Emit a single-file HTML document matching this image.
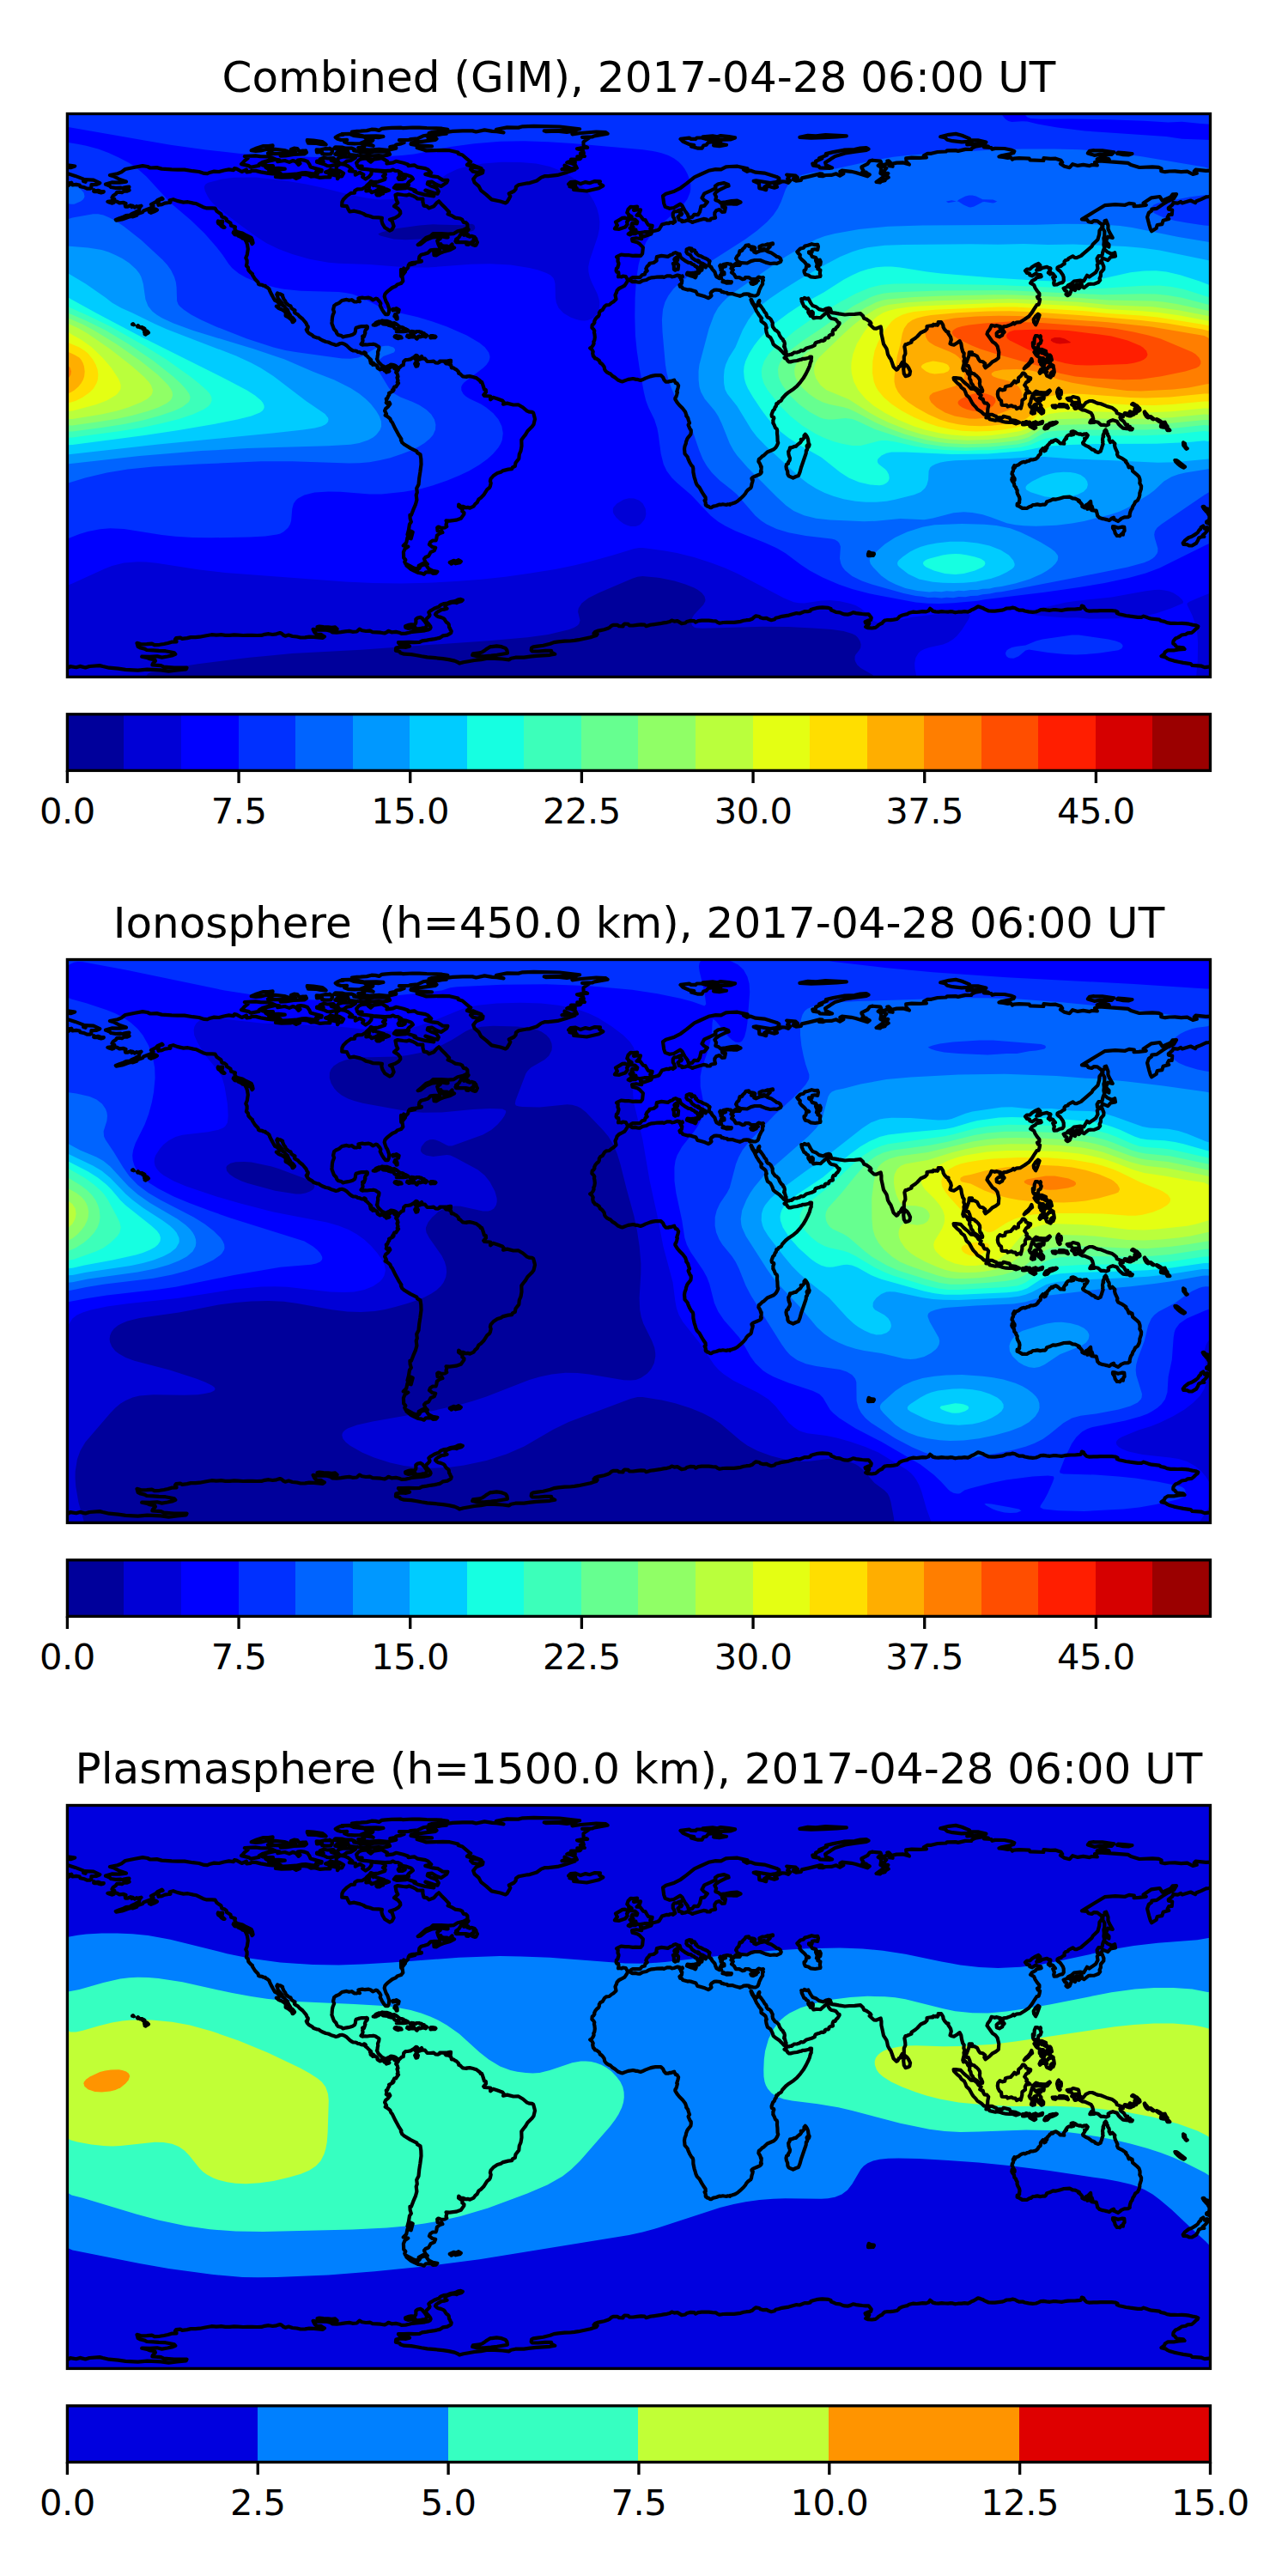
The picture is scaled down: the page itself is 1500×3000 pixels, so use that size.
<!DOCTYPE html>
<html lang="en"><head><meta charset="utf-8"><title>GIM maps</title>
<style>
html,body{margin:0;padding:0;background:#fff}
svg{display:block}
text{font-family:"DejaVu Sans","Liberation Sans",sans-serif;fill:#000;text-anchor:middle}
.tt{font-size:50px}
.tl{font-size:41.67px;letter-spacing:-0.5px}
.fr{fill:none;stroke:#000;stroke-width:3.33}
.tk{fill:none;stroke:#000;stroke-width:3.33}
.cs{fill:none;stroke:#000;stroke-width:4.2;stroke-linejoin:round;stroke-linecap:round}
</style></head><body>
<svg width="1500" height="3000" viewBox="0 0 1500 3000">
<rect width="1500" height="3000" fill="#fff"/>
<defs><path id="cst" d="M123,214.6 130.1,212.4 139.1,212.7 147,211.6 139.5,209 133.1,205.6 127.9,204.1 136.9,202.2 141.4,200.4 145.9,197 157.1,194.7 166.1,193.1 171.8,194 174.8,195.5 182.6,195.1 188.3,196.6 199.9,197.4 207,197.7 214.9,197.6 224.6,199.2 231.8,200 237.8,201.9 241.5,202.2 244.9,200.7 249.4,199.6 255,200 260.6,198.5 266.6,197.4 271.9,198.1 273,196.2 275.6,196.6 281.6,200 286.9,197.6 287.3,200.4 291.8,199.8 293.3,198.7 297.8,198.9 303.7,200.4 312.4,201.9 317.6,202.4 321.4,202.2 326.2,204.1 321,206 327.7,206.7 337.9,206.4 341.2,205.6 345,207.9 349.1,206 345.4,204.5 347.6,203.2 352.5,203 358.5,203.6 362.2,205.6 366.4,205.2 372.7,206.9 378.7,206.4 384.4,206.4 383.6,204.1 387,203.4 393,204.9 393,208.2 395.2,205.2 398.2,205.4 400.1,201.7 396,199.2 391.5,197.7 391.9,193.6 396.4,191 401.2,191.6 405,193.2 410.2,197.4 406.9,199.2 414,200 413.8,203.7 418.9,200.9 423.4,203.4 422.2,206 425.8,208.6 429.7,206 432.4,202.6 432.7,198.5 438,198.9 443.6,199.4 448.5,201.3 448.9,203.2 446,205.1 448.7,207.1 448.1,209 440.8,211.6 435.5,212.2 431.8,211.1 430.7,212.9 427.1,216.1 426,217.6 421.5,220.2 416.2,220.4 413.2,222.1 413,224.6 408.7,224.9 404.1,228.1 399.9,232.2 398.4,235.2 398.2,239.6 403.9,240.1 405.6,243.7 407.2,246.5 412.5,245.7 419.4,247.4 423.2,248.9 426,250.6 430.7,251.7 434.6,253.2 440.8,253.4 444.9,253.8 444.4,257 445.5,260.7 448.1,265 453.7,268.6 456.5,267.3 458.6,263.5 456.7,257.5 453.9,255.7 460.1,253.8 464.2,251.2 466.3,248.5 466.1,246.1 463.5,242.9 459,240.1 463.3,236.2 461.6,232.8 460.5,227 463.1,226.1 469.5,227 473.4,227.4 476.4,226.4 480,227.7 484.5,230 485.8,231.3 492.4,231.7 492.4,234.9 493.5,239.6 497,240.1 499.7,242.4 505.1,240.3 508.7,236.2 511.1,234.3 514.1,237.7 519,242.6 523.1,247 521.6,249.3 526.7,251.4 530,253.6 536,254.5 538.3,255.9 539.8,258.9 542.8,259.4 544.3,260.9 544.5,265 541.8,266.5 539.2,267.9 533,269.2 528.2,272.2 522,272.7 513.9,272 508.3,272 504.4,272.2 501.2,275 496.5,276.7 491,281.5 486.7,285.1 489.9,284.4 495.9,279.5 503.8,276.3 509.4,275.9 512.8,277.8 509.2,280.4 510.4,284.4 511.7,287.2 516.5,289 522.7,288.5 526.5,284.4 526.7,287 529.1,288.5 524.4,290.9 516.2,293.2 512.4,294.7 508.3,297.3 505.5,297.1 505.3,293.9 511.9,290.7 505.7,290.9 501.5,291.3 498.4,294.5 494.4,295.8 490.5,296.7 488.4,299 487.9,301.8 489,303.9 490.9,303.9 490.9,304.4 488.4,305 483.9,305.7 480,306.1 477,307 482.4,306.5 483.5,307 478.3,308.2 475.9,308.4 475.1,311.7 472.5,314.5 470.2,312.5 471.9,316.6 468.5,321.1 469.5,318.3 467.4,317 467,313.8 467,317.9 467.2,321.9 468.5,322.2 469.3,327.3 467,330.1 463.1,331.2 460.7,333.3 456.9,335 452.2,338.7 450.2,340.4 448.3,342.7 447.7,345.3 448.5,347.9 449.6,351.1 451.3,353.9 453.2,359.7 452.8,363.8 451.9,366.1 449,366.1 447,363.7 444.9,360.3 442.7,356 443.4,353.5 442.3,351.5 439.5,348.3 438,347.7 434.2,349.4 431.8,347.5 429.4,346.6 425,347.2 421.9,346.6 418.9,347 417.4,347.5 418.1,348.5 417.9,350 418.9,351.1 416.6,350.7 415.3,351.5 412.5,351.3 409.7,349.2 406.5,349.8 403.7,348.9 398.2,350 394.9,352.8 391.1,354.5 389.1,356.2 388.1,360.5 389.1,363.5 387.6,367 387,369.7 386.6,374.7 386.4,376.6 388.9,383.2 391.5,386 392.2,388.2 393.7,389.9 397.7,391 399.4,392.5 402.6,391.6 405.4,391.2 408.2,390.5 410.6,389.7 413,388.2 413.8,386.2 414.2,383 414.7,381.8 417.4,380.9 421.3,380 424.7,380.2 426.9,379.8 427.9,380.5 427.7,382.4 425.6,384.7 424.9,386.9 425.4,387.7 424.9,389.2 423.9,392.2 423,391.2 422.2,391.8 423,392.7 422.2,394.4 422.6,396.8 422,398.5 421.3,399.7 420.5,400.8 422.6,401.7 423.7,401.2 427.5,401.5 430.9,401 432.9,401 434.8,400.7 437,401.2 439.3,402.8 440.6,403.4 441.5,404.3 441.2,407 440,409.8 440.2,412.4 439.7,414.5 439.5,416.9 438.9,418 439.7,419.5 440.6,421.6 442.1,423.1 443.8,424.8 445.1,426.1 445.1,426.8 447,426.7 447.9,427.6 449.8,427.4 451.5,426.5 453.7,425.7 455,424.6 457.1,424.8 459,425.3 460.7,425.9 461.8,427 463.3,428.2 465.2,428.2 468,425.5 469.7,425.2 470.2,420.8 472.5,419 474.7,419 478.1,418.4 482.4,415.8 484.3,413.9 485.6,414.1 486.5,415.2 483.5,417.8 484.9,419.5 484.7,421.4 483.2,423.7 484.5,426.7 486.2,426.3 486.9,423.7 485.8,422.3 485.6,419.5 490.3,418 489.7,416.2 491,415 492.4,417.7 495,417.7 497.6,421 501,421 505.1,420.7 507.2,422.3 510,422.7 512.2,421.6 512.2,420.7 516.7,420.5 521.2,420.5 518,421.6 519.4,423.3 522.3,423.7 525.2,425.3 525.9,428.3 527.8,428.3 529.3,429.3 531.7,430.6 534,433 534.2,434.9 535.5,435.1 537.5,437 539,438.3 543.5,439 543.9,438.3 546.9,438.1 551,439 552.3,439.4 555,440.3 559.1,443.5 559.7,445 561,444.8 561.9,446.9 564,453.5 565.8,454 566,456.7 563.2,459.8 564.3,461 571.1,461.5 571.1,465.3 574.1,462.8 578.8,464.2 585,466.4 586.8,468.6 586.1,470.7 590.6,469.6 597.9,471.5 603.5,471.3 609,474.5 613.8,478.6 616.7,479.7 619.8,479.9 621.2,481 622.5,485.9 623,488.1 621.5,494.3 619.7,496.8 614.4,502 612,506.1 609.3,509.5 607.3,512.3 607.5,519.3 606.5,525.1 604.8,529 604.3,534.1 600.5,539 599.8,542.9 596.8,544.4 596.2,546.1 591.9,546.6 585.9,548.1 583.3,549.8 579.2,551 574.7,554 571.5,557.7 570.9,560.3 571.7,562.6 570.9,566.3 570,568 567.3,570.1 563.2,576.6 560,579.8 557.4,581.5 555.7,585.1 553.3,587.1 551.6,589.6 547.3,591.6 544.7,590.9 542.6,591.3 539,589.8 536.6,589.8 534.2,587.7 534,589.8 538.7,592.9 538.3,595.4 540.5,597.1 540.3,598.9 536.8,603.8 531.2,605.7 523.7,606.6 519.5,606.3 520.3,608.3 519.5,611.1 520.3,613.2 518,614.5 514.3,614.9 510.5,613.6 509.2,614.5 509.6,618.3 512.2,619.4 514.3,618.3 515.4,620.1 511.9,621.3 508.9,623.7 508.3,627.4 507.5,629.5 504,629.5 501,631.4 499.9,634.2 503.6,637 507.2,637.8 505.9,641.1 501.5,643.2 499.1,647.5 495.5,649 494,650.9 495.4,654.6 497.8,656.9 492.7,656.1 487.7,658.9 487.1,662.5 485.4,662.5 481.3,661.4 477,658.8 472.3,656.5 471.2,654.3 472.3,652 470.2,649.6 469.9,643 471.4,639.4 475.3,636.6 469.7,635.5 473.2,632.1 474.5,625.9 478.7,627.3 480.7,619.6 478.1,618.4 477,623.1 474.5,622.6 475.9,617.3 477,610.4 478.9,607.8 477.7,604.2 477.4,599.9 479,599.7 481.3,593.7 483.9,587.7 485.4,582.1 484.7,576.4 485.8,573.5 485.2,568.8 487.5,564.3 488.2,557 489.4,549.3 490.5,540.8 490.3,534.6 489.5,529.4 485.8,527.1 485.4,525.6 477.9,521.9 471.2,517.8 468.4,515.5 466.9,512.3 467.4,511.4 464.2,506.3 460.5,499.6 456.9,492.1 455.4,490.4 454.3,487.6 451.3,485.1 448.7,483.6 450,482 448.1,478.4 449.2,475.8 452.2,473.3 454.3,470.5 453.5,468.8 452,470.7 449.8,469 450.5,467.9 449.8,464.5 451.1,464 451.9,461.7 453.4,459.3 453,457.8 455,456.8 457.7,455.3 457.1,454.2 458.6,454 458.4,452.2 459.2,450.7 461,450.5 462.7,448 464,446.2 462.7,445.2 463.5,443.2 462.5,439.6 463.5,438.7 462.7,435.5 461.2,433.6 461.8,431.7 462.9,431.9 463.7,430.8 462.9,430.4 462.7,428.7 460.1,429.5 459.2,429.1 458.6,428 456.7,426.8 455,427 454.3,428.3 452.8,429.3 451.9,429.5 451.5,430.2 453.4,432.3 452.4,432.8 450,433.6 449.4,431.3 448.9,431.9 447.7,431.7 447,430.2 445.3,429.8 442.9,429.5 442.7,430.4 440.2,428.9 439.5,428.2 439.9,427.4 438.7,425.7 437.2,425 435.9,424.6 435.7,423.5 434.8,422.7 435,423.8 434.2,424.8 433.3,423.7 432.2,423.3 431.6,422.5 431.6,421.4 432.2,420.3 431,419.7 432,419 430.7,417.8 429,416.3 428,415 426.5,413.9 424.7,412.2 425,411.7 426,411.8 425.2,410.7 424.1,410.3 423.7,411.3 421.5,411.3 420.2,410.9 418.7,410.2 416.6,410 415.5,409 413.6,408.5 411.2,408.3 409.5,407.5 407.4,406 403.3,402.1 401.2,400.8 398.2,399.8 396.2,400 393.2,401.5 391.3,401.9 388.7,401 385.9,400.2 382.3,398.5 379.5,398 375.2,396.3 372.2,394.4 371.2,393.5 369,393.3 365.2,392 363.7,390.3 359.8,388.2 357.7,385.8 356.8,383.9 358.1,383.5 357.7,382.6 358.7,381.7 358.7,380.3 357.4,378.7 357,377.2 355.7,375.3 352.5,371.5 348.7,368.5 346.9,366.3 343.7,364.6 342.9,363.8 343.5,361.4 341.6,360.5 339.4,358.8 338.4,356.2 336.4,355.8 334.3,353.9 332.4,352 332.4,350.9 330.4,348.1 329.1,345.1 329.1,343.8 326.4,342.3 325.1,342.5 323.1,341.4 322.3,342.9 323.1,344.7 323.8,347.7 327.4,351.7 328.1,352.4 328.7,354.1 329.1,355.8 330.6,356.3 331.7,357.5 332.4,358.8 334.9,360.7 336,364 337.1,365.7 338.2,367.4 338.4,369.5 340.3,369.7 341.8,371.3 343.1,373 342.9,373.6 341.4,375.1 340.7,375.1 339.7,372.7 337.3,370.6 334.7,368.7 332.6,367.8 332.8,365.2 332.2,363.1 330.6,362 327.9,360.3 326.4,359.7 324.2,358.8 321.9,356.7 323.8,356.5 325.1,355.2 325.3,353.5 322.3,350.7 320.2,349.8 318.7,347.4 317.4,344.9 315.7,341.9 314.1,338.5 313.5,336.7 311.1,334.6 309.4,334 309,332.9 306.7,332.7 305.4,331.8 302.1,331.4 301.1,330.9 300.6,328.8 297,325 293.8,319.8 294,318.9 292.3,317.7 289.3,314.5 288.9,311.5 286.9,309.5 287.6,306.3 287.6,303.1 286.3,300.3 287.8,296.7 288.8,290 288,284.9 286.9,281.7 285.8,279.9 286.3,279.1 291.8,280.4 293.6,284 294.6,283 294,279.9 292.7,276.9 285,273.1 282.4,271.6 275.4,269.9 273.4,266.7 273.9,264.3 269.1,262.8 268.5,259.8 264,257 263.8,255.1 261.8,253.6 258.4,252.5 257.4,249.3 252.6,246.1 250.5,242.7 246.9,242.4 240.9,242.4 236.6,241.2 228.9,237.3 225.2,236.6 218.8,235.2 213.6,235.6 206.3,233.9 201.8,232.2 197.6,233.2 198.4,235.8 196.3,236 191.8,236.7 188.6,238.1 184.5,238.8 184,236.6 185.6,232.8 189.6,231.7 188.6,230.7 183.8,232.8 181.1,235.4 175.9,238.1 178.5,239.9 175,242.6 171,244 167.3,245.4 166.3,247 160.5,248.9 159.2,250.8 154.9,252.3 152.3,251.9 148.9,253 145,254.4 142,255.5 135.4,256.6 134.8,255.9 139,254.2 142.7,253 146.6,251 151.3,250.6 153.2,249.1 158.3,246.9 159.2,246.1 162,244.8 162.6,241.8 164.5,239.7 160.1,240.9 159,240.1 157,241.6 154.5,239.6 153.4,241.1 152.1,239.2 148.3,240.7 146.1,240.7 145.7,238.4 146.5,236.9 144,235.8 139.1,236.4 136,234.7 133.3,233.7 133.3,231.7 130.5,230 131.8,227.9 135,225.7 136.3,223.8 139.3,223.6 142,224.2 145,222.3 147.6,222.7 150.6,221.6 149.8,219.9 147.8,219.1 150.4,217.6 148.1,217.8 144.2,218.6 143.1,219.3 140.1,218.6 134.8,218.9 129.2,218 127.7,216.5 123,214.6M588.7,236.4 582.7,234.5 572.6,232.4 566.2,226.6 560.2,221.9 557.6,216.9 552.7,212.7 551.2,208.6 554.6,204.3 562.1,201.3 562.5,198.5 556.5,200.7 550.8,199.8 548,197 549.5,195.1 553.1,194.9 560.6,196.1 554.2,193.6 550.8,192.3 547.1,192.9 543.9,191.9 548.2,188.4 546,186.9 543,184.4 538.5,180.5 533.6,179 533.6,177.5 523.7,175.2 515.6,174.9 505.7,175.1 496.5,175.4 492.2,174.1 485.6,171.9 495.4,170.7 503,170.4 486.9,169.4 478.5,167.9 479,166.4 493.1,164.7 507,162.9 508.5,161.6 498.4,160.2 501.5,158.7 514.5,156.1 519.9,155.7 518.4,154.1 527.2,152.9 538.8,152.4 550.3,152.4 554.4,153.5 564.3,151.4 573.3,152.9 578.6,153.2 586.5,154.4 577.5,152.4 578,150.7 590.6,148.4 603.7,148.6 608.6,147.3 621.7,146.9 651.7,147.5 675.1,150.3 668.2,151.8 654,152 633.7,152.4 635.6,153.1 648.9,152.6 660.1,153.9 667.5,152.7 670.6,154.1 666.5,156.3 676.1,155 694.3,153.5 705.5,154.2 707.6,155.7 692.2,158.4 690.1,159.3 678.1,159.9 686.8,160.1 682.5,162.9 679.5,165.3 679.6,169.4 684.1,171.9 678.1,172.1 672,173.2 678.9,175.2 679.8,178.4 675.9,178.8 680.8,182 672.3,182.4 676.6,183.9 675.5,185.2 670.3,185.7 665,185.7 669.7,188.2 669.7,189.9 662.2,188.4 660.3,189.3 665.4,190.2 670.3,192.7 671.8,195.7 665,196.4 662.2,194.9 657.5,192.7 658.8,195.3 654.5,197.2 664.3,197.4 669.5,197.6 659.4,200.9 649.3,203.9 638.4,205.1 634.1,205.2 630.3,206.6 625.1,210.5 617,213.1 614.4,213.3 609.3,214.2 604.1,215.2 600.9,217.4 600.7,220.1 598.8,222.5 592.8,225.5 594.3,228.5 592.7,231.7 590.6,235.2 588.7,236.4M428.8,186.3 431.7,188.6 435.2,185.6 444.7,184.1 451.1,187.9 450.5,190.4 458,189.3 461.5,187.8 469.8,189.7 475,191.5 475.5,193.1 482.5,192.3 486.4,194.7 495.4,196.1 498.7,197.7 502.2,201.2 495.3,202.9 504.2,205.4 510.1,206.2 515.5,209.6 521.4,209.9 520.3,212.5 513.7,216.9 509,215.3 503.2,211.7 498.3,212.1 497.8,214.3 501.8,216.5 506.9,218.2 508.4,219.2 510.8,222.9 509.6,225.6 504.8,224.6 495.4,221.6 500.7,224.8 504.6,227.1 505.2,228.4 495.1,226.9 487,224.7 482.5,222.9 483.8,221.8 478.2,219.9 472.7,218.1 472.8,219.2 461.9,219.8 458.8,218.5 461.2,215.7 468.3,215.6 476,215.2 474.8,213.8 476.1,212 480.9,208.3 479.9,206.6 478.4,205.4 472.7,203.6 465.1,202.3 467.5,201.3 463.5,199 460.2,198.8 457.3,197.5 455.3,198.6 448.4,199.1 434.8,198.2 426.9,197.1 420.8,196.6 417.7,195.3 421.6,193.5 416.3,193.5 415.1,189.7 418,186.4 421.8,184.8 431.5,183.9 428.8,186.3M325.2,186.4 323.4,188.2 331.7,187 336.9,188.9 341.2,187 344.6,188.3 347.7,191.9 349.5,190.4 346.9,186.5 350.2,186 353.9,186.6 358.1,188.1 360.5,191.7 361.6,194.4 367.9,196.2 374.7,198 374.3,199.7 368.1,200 370.5,201.4 369.3,202.8 362.5,202.2 356,201.2 351.7,201.4 344.6,202.7 335.1,203.3 328.5,203.6 326.4,201.8 321.3,200.8 318,201.2 313.3,198.3 315.9,197.9 321.6,197.2 326.9,197.4 331.8,196.7 324.6,195.9 316.5,196.2 311.2,196.1 309.3,194.7 318,193.2 312.1,193.2 305.6,192.3 308.8,189.5 311.4,188 321.4,185.7 325.2,186.4M281.1,191.1 282.8,189.5 285.3,186.8 288.6,184.3 284.9,182 297.6,181.4 303,182.2 312.5,182.4 316.2,183.5 320.2,185.1 315.5,186 306.3,188.7 301.6,191.3 301.6,192.9 291.8,194.7 289.8,193.1 281.1,191.1M356.2,175.7 357,177.6 354.7,179.3 342,179.9 332.5,181.5 326.8,181.7 326.4,180.4 334.2,178.8 317.2,179.2 312,178.5 317.1,174.9 320.6,173.8 331.2,175.1 337.8,177.3 344.4,177.6 339,174 342.4,172.7 346.3,173.1 347.6,174.9 349,176.2 352.4,175.6 356.2,175.7M384,172.9 386.8,174.6 387,176.6 385.3,179.4 379.1,179.7 375.1,179.1 375.1,177 369,177.3 368.7,174.3 372.8,174.5 378.4,173.2 383.7,173.4 384,172.9M406.8,180 405.5,177.9 405,176.1 401.3,174.4 393.5,174 389.2,172.8 390.6,171.3 398.3,171.5 402.5,172.7 409.8,172.7 413.1,173.9 412.2,175.4 416.5,176.2 418.9,177.1 424,177.2 429.4,177.6 435.4,176.7 443,176.4 449.1,176.7 453.1,178.1 454,179.7 451.6,180.6 446,181.5 441.2,181 430.5,181.6 422.8,181.7 416.8,181.2 406.8,180M402.3,179.4 400.3,180.9 394.8,180.6 390.3,179.6 392.3,177.9 397.7,176.9 400.9,178.2 402.3,179.4M377,183.7 381.5,184.5 388.2,184 389.2,185.1 385.7,186.9 391.3,188.5 390.7,191.9 384.5,193.4 380.9,193 378.3,191.6 369,188.7 369.1,187.5 376.7,188 372.6,185.5 377,183.7M403.9,187.7 399.9,190.5 395.6,190.4 393.3,187.1 393.3,185.2 395.2,183.6 399,182.6 406.8,182.7 413.9,183.6 408.4,187 403.9,187.7M496.5,149 506.5,149.3 514.6,149.7 521.4,150.8 521.3,151.8 512.1,153.4 503,154.1 499.6,155 507.8,155 499,157.2 492.8,158.3 486.4,161.4 478.7,162 476.3,162.8 464.9,163.2 470.1,163.6 467.5,164.3 470.6,166.1 467.1,167.4 461.3,168.5 459.5,170 454.3,171.1 454.8,171.9 461.2,171.8 461.3,172.7 451.3,174.9 441.5,173.9 430.4,174.5 424.9,174 417.8,173.9 417.3,172.1 424.2,171.2 422.4,168.5 424.7,168.2 434.7,169.8 429.6,167.4 423.5,166.7 426.5,165.3 433.2,164.4 434.3,163.1 428.9,161.6 427.4,159.7 437.6,159.8 440.6,160.2 446.4,158.9 438,158.4 424.9,158.7 418.2,157.4 415.1,155.9 410.7,154.8 409.9,153.5 415.5,152.8 419.9,152.7 427.2,152.1 432.7,150.7 437.4,150.9 441.4,151.9 444.3,149.9 449.2,149.3 455.9,148.9 467.4,148.7 469.4,149.1 480.2,148.5 488.3,148.7 496.5,149M427,161.9 431.6,163.1 426.4,164.2 419.5,167 412.9,167.3 405.1,166.8 401.1,165.3 401.1,164 404.1,162.9 397.2,163 393.1,161.7 390.7,160 393.3,158.4 395.9,157.2 399.7,156.9 398.1,156.1 406.8,155.9 411.6,157.9 417.9,158.7 424.1,159.4 427,161.9M365.1,163.7 375.3,165.1 378.1,166.9 379.6,168.5 373.5,168 367.3,166.8 358.9,166.7 362.6,165.6 358,164.7 357.8,163.2 365.1,163.7M314.2,173.6 310.7,173.8 303.7,175.4 297.8,176 292.7,175.2 299,172.4 306.7,170 312.5,170 317.6,169.4 317.1,172.3 314.2,173.6M434,214.4 434.7,216 436.6,215.5 438.8,216.5 442.9,217.7 447.2,218.9 447.5,220.7 450.3,220.4 453,221.6 449.6,222.8 443.8,221.9 441.7,220.2 438,222.2 432.7,224.2 431.3,222 426.3,222.3 429.5,220.5 430,217.5 431.3,214.1 434,214.4M446.2,224.7 441.8,227.5 439.2,227.4 438.4,226.4 441.2,224.7 446.2,225.5 446.2,224.7M468.8,208.8 464.6,209 463.7,207.2 465.3,205.1 468.7,204.5 471.7,205.6 471.7,207.2 471.3,207.7 468.8,208.8M394.7,201.5 392.4,202.8 387.3,201.6 384.3,202.1 379.1,200.4 382.4,199.2 385,197.6 389,198.6 391.3,199.3 392.4,200 394.7,201.5M542.9,270.5 540.3,273.8 542.8,272.5 545.3,273.3 544,274.6 547.3,275.7 549.1,274.8 552.8,275.9 551.6,278.7 554.3,278 554.7,280 555.9,282.3 554.3,285.6 552.6,285.8 550.2,285.1 551,282 549.9,281.5 545.6,284.8 543.3,284.7 546,282.9 542.4,282 538.4,282.2 531.1,282.1 530.5,281 532.8,279.7 531.2,278.7 534.4,276.4 538.2,270.4 540.6,268.3 543.8,267 545.6,267.1 544.8,268.2 542.9,270.5M511.4,273.6 512.7,273.3 517.6,274.2 521.5,275.8 521.6,276.4 519.8,276.5 514.9,275.4 511.4,273.6M513.3,284.2 514.6,286 517.3,286.5 520.8,286.5 519,288 517.6,288.2 512.8,286.6 511.9,285.4 513.3,284.2M290.2,278.7 288.3,279.2 282.2,277.5 281.1,276.2 277.7,274.9 277,273.8 273.2,273.1 271.7,271.1 272,270.2 276,271 278.3,271.6 281.8,272 283.1,273.3 284.9,275.1 288.7,276.6 290.2,278.7M255.7,258 259.3,257.7 258.2,261.9 261.5,264.9 260,264.9 257.7,263.2 256.3,261.5 254.4,260.3 253.7,258.7 254,257.5 255.7,258M179.6,246.4 175.9,247.9 173.9,246.9 173.4,245.1 176.8,243.8 178.8,243.2 181.3,243.5 182.9,244.6 179.6,246.4M109.4,221.4 111.7,222.2 114.1,221.8 117.1,222.8 120.8,223.2 120.5,223.7 117.7,224.4 114.8,223.7 113.4,222.9 110.1,223.2 109.2,222.8 109.4,221.4M132.1,234.5 132.5,236 130.2,236.6 127.7,235.8 125.4,234.8 129.1,234.2 132.1,234.5M170.1,389 169.6,389.6 168.6,389.1 168.7,388.1 168.1,386.7 169,385.7 168.9,384.6 171.3,385.6 172.9,387.4 171.3,388.4 170.1,389M168.1,383.2 166.9,383.5 165.8,382.4 166.1,381.8 167.4,382.1 168.4,382.7 168.1,383.2M165.5,381.2 163.7,381 163.4,381.5 165.4,381.6 165.5,381.2M162.2,380.6 160.4,380.7 159.8,379.7 160.8,379.1 162.2,380.6M155.8,378.2 154.1,377.8 154.9,377.2 155.8,378.2M444.8,373.6 448.1,373.9 451,373.9 454.6,375.2 456.1,376.6 459.5,376.2 460.9,377 464,379.4 466.4,381.1 467.6,381 469.9,381.8 469.6,382.8 472.4,383 475.2,384.5 474.7,385.4 472.3,385.9 469.7,386.1 467.2,385.8 461.8,386.1 464.3,384.1 462.8,383.1 460.3,382.8 459.1,381.7 458.2,379.6 456.1,379.7 452.5,378.7 451.4,377.9 446.5,377.4 445.2,376.6 446.6,375.7 442.9,375.5 440.3,377.5 438.7,377.5 438.2,378.4 436.3,378.8 434.7,378.5 436.7,377.3 437.5,376 439.2,375.1 441.1,374.4 443.9,374 444.8,373.6M484.4,386.7 484.9,386 487.8,386 490.1,387 491,386.9 491.7,388.3 493.8,388.2 493.7,389.3 495.3,389.4 497.2,390.8 495.8,392.3 494,391.5 492.3,391.7 491,391.5 490.4,392.2 488.9,392.4 488.3,391.5 487.1,392 485.6,394.6 484.6,394 484.4,392.9 482,392.3 480.2,392.5 477.9,392.3 476.2,393 474.1,391.8 474.5,390.6 477.9,391.1 480.8,391.4 482.1,390.6 480.4,389 480.4,387.5 478,386.9 478.9,385.9 481.2,386.1 484.4,386.7M462.5,391.3 465,391.6 467,392.5 467.6,393.5 465,393.6 463.8,394.2 461.7,393.6 459.6,392.2 460,391.4 461.6,391.1 462.5,391.3M507.4,392.2 506.4,393.2 503.6,393.2 501.4,393.3 501.2,391.7 501.7,391.1 504.8,391.2 506.7,391.5 507.4,392.2M462.6,371.5 461.7,371.7 460.7,369.5 459.3,368.4 460.1,366.1 461.3,366.2 462.6,369.3 462.6,371.5M461.5,360.9 457.4,361.5 457.2,360.1 458.9,359.8 461.4,359.9 461.5,360.9M464.6,360.9 464,363.5 463.3,363.1 463.3,361.1 461.6,359.6 461.6,359.2 464.6,360.9M522.1,420.2 524.2,419.8 525,419.9 524.8,422.7 521.7,423.1 521,422.8 522.1,421.7 522.1,420.2M523.8,655 528.3,652.8 531.5,653.7 533.8,652.2 536.8,653.9 535.7,655.2 530.6,656.3 528.9,655 525.7,656.7 523.8,655M496,658 497.4,659.7 499.3,662.5 504.2,664.8 509.4,665.7 507.7,667.6 504.2,667.8 502.3,666.4 500,666.3 496,666.3 493.7,668.7 491,667.6 487.1,667 482.4,664.9 478.5,662.9 473.4,658.7 476.5,659.5 481.7,662 486.7,663.3 488.6,661.6 489.8,659.1 493.3,657.5 496,658M849.7,194 858.9,193.7 870.6,196.4 865.8,197.4 869.9,199.8 873.8,198.5 880,200.7 890.2,201.6 904.4,205.9 907.3,207.6 907.5,210.2 903.4,212.1 897.2,213.1 880.5,210.3 877.7,210.8 883.8,213.5 884.1,215.2 884.3,219.1 889.2,220.2 892.1,221.2 892.6,219.4 890.3,217.8 892.7,216.3 901.8,218.7 905,217.8 902.4,215 911.1,211.3 914.6,211.5 918.1,212.9 920.3,210.3 917.2,208.1 919,205.8 916.2,203.5 926.7,204.7 928.9,206.8 924.2,207.2 924.2,209.3 927.1,210.6 932.9,209.8 933.8,207.4 941.7,205.6 954.8,202.4 957.6,202.6 953.9,204.9 958.5,205.2 961.2,204 968.2,203.9 973.8,202.3 978.1,204.6 982.3,202.1 978.4,199.9 980.4,198.7 991.4,199.8 996.6,201 1010.2,205.3 1012.7,203.3 1008.9,201.3 1008.8,200.5 1004.3,200.2 1005.5,198.4 1003.5,195.5 1003.4,194.3 1010.3,190.9 1012.8,187.5 1015.6,186.7 1025.5,187.7 1026.3,189.8 1022.7,192.8 1025.1,194 1026.3,196.7 1025.4,201.8 1029.6,204.1 1027.9,206.6 1020.6,211.9 1024.9,212.5 1026.4,211.1 1030.5,210.2 1031.5,208.3 1034.7,206.5 1032.6,204.4 1034.3,201.9 1030.2,201.6 1029.3,199.5 1032.3,195.8 1027.4,192.7 1034.1,190.2 1033.3,187.5 1035.1,187.4 1037.1,189.5 1035.6,193.1 1039.6,193.8 1037.9,191.1 1044.2,189.6 1052,189.4 1058.9,191.6 1055.6,188.4 1055.2,184.4 1061.7,183.7 1070.8,183.8 1078.9,183.3 1075.8,181.4 1080.2,178.9 1084.5,178.8 1091.8,177 1101.7,176.5 1102.9,175.4 1112.8,175.1 1115.8,175.9 1124.2,173.9 1131.1,174 1132.2,172.4 1135.7,170.8 1144.6,169.2 1151,170.5 1145.9,171.4 1154.4,172 1155.4,173.8 1158.8,172.9 1169.8,173 1178.3,174.8 1181.3,176.2 1180.4,178.1 1176.2,179.3 1166.3,181.3 1163.5,182.4 1168.2,183 1173.7,183.9 1177.1,183.2 1179,185.6 1180.7,184.7 1186.7,184.1 1198.7,184.7 1199.6,186.4 1215.3,187 1215.5,184.1 1223.4,184.8 1229.4,184.7 1235.5,186.7 1237.2,189.1 1235,190.7 1239.7,193.7 1245.6,195.2 1249.2,191.2 1255.2,192.9 1261.6,191.9 1268.9,193.1 1271.6,192 1277.8,192.5 1275.1,189 1280,187.4 1313.9,189.9 1317.1,192.1 1326.9,195 1342,194.3 1349.5,194.9 1352.6,196.4 1352.2,199.2 1356.8,200.2 1361.8,199.5 1368.4,199.4 1375.5,200.1 1382.7,199.7 1389.2,203 1393.8,201.8 1390.8,199.4 1392.4,197.7 1404.4,198.8 1412.2,198.6 1423,200.4 1428.2,202 1437.4,204.9 1447.3,208.6 1447,210.9 1449.5,211.8 1448.6,209.1 1458.8,209.7 1466.1,213.2 1462.4,214.8 1456.3,215.2 1456.1,218.9 1454.6,219.7 1451.2,219.6 1448.3,218.3 1443.3,217.2 1442.5,215.5 1438.7,214.9 1434.4,215.4 1432.4,214.1 1433.2,212.7 1428.7,213.6 1430.4,215.4 1428.2,216.9 1423.4,218.6 1418.5,218.3 1421.9,220.3 1424.2,223.4 1425.9,224.4 1426.3,226 1425.4,227 1418.3,226.2 1407.9,229 1404.6,229.4 1398.8,232.1 1393.4,234.3 1392,236.1 1386.6,233.5 1376.8,236.4 1375.2,235 1371.6,236.6 1366.5,236.1 1365.3,238.6 1360.8,242.2 1360.9,243.7 1365.2,244.5 1364.7,250 1361.2,250.2 1359.6,253.3 1361.2,254.9 1354.6,256.8 1353.3,261.1 1347.7,262 1346.6,265.8 1341.2,269.3 1339.8,266.7 1338.2,261.3 1336.1,252.9 1337.9,247.7 1341.1,245.5 1341.3,243.7 1347.1,242.9 1353.8,238.2 1360.3,234.3 1367,231.3 1370,226.1 1365.5,226.4 1363.2,229.5 1353.7,233.6 1350.6,229 1341,230.3 1331.6,236.5 1334.7,238.8 1326.3,239.8 1320.5,240.2 1320.8,237.5 1314.9,236.9 1310.3,238.8 1298.8,238.1 1286.5,239.2 1274.4,246.5 1260,255.4 1265.9,255.9 1267.7,258.2 1271.4,259 1273.8,257.2 1277.9,257.4 1283.3,261.5 1283.4,264.7 1280.5,268.5 1280.2,272.9 1278.5,278.9 1272.8,284.4 1271.6,286.9 1266.5,291.3 1261.5,295.6 1259,297.9 1254,300.1 1251.7,300.1 1249.3,298.3 1244.3,301 1243.7,302.3 1240.7,303.3 1239.5,304.6 1239.7,307.3 1237.7,308.1 1235.6,309.9 1233.2,310.5 1231.5,311.5 1231.4,313.2 1232.4,314.2 1234.6,315.8 1237.8,320.2 1238.7,322.7 1238.8,327 1237.4,329.1 1234,329.8 1231,331.3 1227.6,331.6 1227.2,329.6 1227.9,326.8 1226.2,322.9 1229,322.3 1226.4,319 1224.6,318.3 1223.1,319.3 1221.9,318.3 1220.9,317.7 1222,316 1222.8,315.6 1222.5,314.9 1223.5,312.9 1223.2,312.3 1221,311.9 1219.3,310.9 1214,312 1211.3,313.7 1207.2,314.7 1209.2,313 1208.4,311.5 1211.4,309 1209.4,307 1206.2,308.4 1201.9,311 1199.6,313.4 1195.9,313.6 1194,315.3 1196,317.9 1199.1,318.5 1199.2,320.2 1202.1,321.3 1206.3,318.6 1209.7,320.1 1212.1,320.2 1212.7,322.1 1207.4,323.2 1205.7,325.2 1202,327.1 1200.1,329.7 1204.1,331.8 1205.6,335.4 1207.9,338.9 1210.4,341.8 1210.4,344.5 1208,345.6 1208.9,347.6 1211.1,348.7 1210.5,351.8 1209.6,354.7 1207.5,355.1 1204.8,359.2 1201.7,364.1 1198.2,368.5 1193.1,372 1187.9,375.2 1183.6,375.6 1181.3,377.3 1180.1,376 1177.9,377.9 1172.7,379.8 1168.7,380.3 1167.4,384.3 1165.4,384.5 1164.4,381.8 1165.3,380.3 1160.2,379.1 1158.5,379.8 1154.7,378.8 1152.9,383 1150.3,386.5 1149.5,389.1 1152.4,393.1 1155.9,398 1159.3,400.3 1161.6,403.3 1163.3,410.2 1162.8,416.8 1159.7,419.3 1155.4,421.7 1152.3,424.9 1147.6,428.3 1146.3,425.9 1147.3,423.4 1144.5,421.3 1141.4,420.7 1139.9,418.8 1138,414.9 1134.6,413.2 1131.4,413.2 1132,410.3 1128.7,410.3 1128.4,414.4 1126.3,419.9 1125.1,423.2 1125.4,425.9 1127.8,426.1 1129.3,429.5 1130,432.7 1132.1,434.9 1134.4,435.3 1136.3,437.3 1137.2,437.6 1139.4,439.9 1141,442.4 1141.2,444.9 1140.8,446.6 1141.1,447.9 1141.4,450.1 1142.7,451.1 1144.2,454.5 1144.1,455.8 1141.5,456 1137.9,453.2 1133.5,450.2 1133,448.3 1130.9,445.8 1130.4,442.7 1129,440.7 1129.4,437.9 1128.6,436.4 1127.1,434.9 1126.5,433.1 1124.5,430.9 1122.7,429.2 1122.1,431.4 1121.3,429.3 1121.8,427 1122.8,423.4 1122.5,420.5 1123.6,417.7 1122.4,415.5 1122.7,411.4 1121.2,409.4 1120,404.9 1119.3,400.2 1117.6,397.1 1115.2,399 1110.9,401.7 1108.8,401.3 1106.5,400.4 1107.8,395.8 1107,392.3 1104.1,388 1104.5,386.6 1102.3,386.1 1099.7,383.1 1098.6,381.1 1098.4,379.2 1097.6,377.4 1096.1,375.2 1092.7,375.1 1093,376.6 1091.8,378.7 1090.2,377.9 1089.7,378.6 1088.6,378.2 1087.1,377.9 1086.6,379.3 1084.1,379.2 1079.5,380 1079.6,382.8 1077.7,385 1072.3,387.5 1068.1,392 1065.3,394.3 1061.5,396.8 1061.5,398.5 1059.6,399.4 1056.3,400.8 1054.5,401 1053.4,403.8 1054.2,408.7 1054.4,411.8 1052.8,415.4 1052.8,421.7 1050.8,421.9 1049.1,424.8 1050.3,426 1046.8,427.1 1045.6,429.7 1044.1,430.7 1040.5,427.2 1038.8,422 1037.4,418.2 1036,416.4 1034,412.8 1033.1,408.1 1032.4,405.8 1029,400.6 1027.5,393.4 1026.4,388.6 1026.4,384 1025.7,380.5 1020.2,382.7 1017.6,382.3 1012.6,377.8 1014.4,376.4 1013.4,374.9 1009,371.8 1006.2,370.8 1005.1,368.1 1002.2,365.2 995.3,365.9 989.2,366 983.9,366.5 976.9,365.4 972.8,364.6 968.5,364.1 966.9,359.5 965.1,358.8 962.3,359.5 958.5,361.3 953.9,360.1 950.1,357.2 946.5,356.1 944,352.6 941.3,347.5 939.2,348.1 936.8,346.9 935.4,348.4 933.2,348.2 934,349.9 933.6,350.7 934.9,353.5 936.3,356.8 938.2,357.6 938.8,358.9 941.4,360.5 941.6,362 941.2,363.3 941.7,364.6 942.8,365.6 943.3,366.8 943.8,367.8 943.6,365 944.6,363.1 945.6,362.7 946.8,363.8 946.8,366 946,368.2 946.7,369.7 947.4,369.5 947.5,370.5 950.5,369.9 953.6,370 955.8,370.1 958.4,367.6 961.2,365.2 963.6,362.9 964.7,361.6 965.1,361.9 964.8,363.5 964.3,364.2 964.8,367.1 966.5,369.7 968.5,371 971.3,371.5 973.5,372.2 975.2,374.4 976.2,375.6 977.6,376.1 977.6,376.9 976.2,379.2 975.6,380.2 974,381.4 972.6,384 970.9,383.8 970.2,384.7 969.6,386.6 970,389.1 969.6,389.6 967.9,389.5 965.6,391 965.2,392.8 964.4,393.5 962,393.5 960.6,394.5 960.6,396 958.8,397 956.7,396.7 954.2,397.9 952.5,398.2 949.8,399.2 949,400.8 948.9,402.1 945.2,403.7 939.2,405.4 935.9,408.1 934.2,408.3 933.1,408.1 930.9,409.6 928.5,410.3 925.4,410.5 924.4,410.8 923.6,411.7 922.6,412 922,413 920.1,412.9 919,413.4 916.4,413.2 915.4,411 915.5,409 914.9,407.9 914.1,405.1 913.1,403.6 913.8,403.4 913.4,401.6 913.9,400.9 913.7,399.3 913.2,397.7 912.1,396.5 911.8,395.1 909.9,393.7 907.9,390.6 906.8,387.5 904.2,385 902.6,384.3 900.1,380.8 899.6,378.1 899.8,375.9 897.6,371.8 895.9,370.3 893.9,369.5 892.6,367.4 892.8,366.5 891.8,364.6 890.7,363.7 889.2,361 887,357.9 885,355.4 883.2,355.4 883.8,353.3 883.9,352 884.4,350.5 884.3,350 883.2,351.5 882.4,354.3 881.4,356.3 880.5,356.9 879.3,355.7 877.6,354 874.9,348.7 874.5,349 876,352.9 878.4,356.7 881.2,362.6 882.6,364.6 883.8,366.7 887.1,370.9 886.4,371.5 886.5,374 890.9,377.3 891.6,378.1 892.8,381.8 891.9,382.4 892.5,386.3 893.9,390.8 895.3,391.7 897.3,393.1 899.5,397.4 900.6,400.9 902.6,402.7 907.7,406.3 909.8,408.4 911.9,410.6 913,411.8 914.9,413 915.8,414.1 915.6,415.7 913.5,416.6 915.1,417.6 916.3,418.3 917.1,419.9 918.8,421.4 920.6,421.4 924.2,420.5 928.2,420 931.5,418.9 933.4,418.6 934.7,417.9 936.9,417.8 938.1,417.7 939.8,417.2 941.8,416.8 943.5,415.5 945,415.5 945,416.5 944.7,418.7 944.7,420.7 943.9,422 942.9,426.1 941.1,430.3 938.7,435.1 935.5,440.6 932.3,444.8 927.9,449.9 924.2,452.9 918.6,456.7 915.1,459.5 911,464 910.1,466 909.3,466.9 906.6,468.4 905.7,470 904.3,470.2 903.8,472.9 902.6,474.4 901.8,476.9 900.3,478.1 898.6,482.7 898.8,484.9 901.2,486.2 901.3,487.2 900.3,489.5 900.5,490.6 900.3,492.4 901.6,494.7 903.1,498.5 904.5,499.3 905.1,501 905,504.7 905.4,508 905.6,513.8 906.2,515.7 905.1,518.4 903.6,521 901.2,523.3 897.8,524.7 893.6,526.5 889.4,530.6 887.9,531.2 885.3,533.9 883.8,534.8 883.4,537.5 885.2,540.3 885.9,542.5 886,543.6 886.7,543.4 886.5,547.1 885.9,548.9 886.8,549.5 886.3,551 884.7,552.4 881.6,553.7 877.1,555.7 875.4,557.1 875.8,558.6 876.8,558.9 876.4,560.9 875.5,563.6 875,566.7 874.1,568.4 871.5,570.3 870.8,570.8 869.2,572.7 868.1,574.7 866,577.3 861.8,581.2 859.1,583.5 856.3,585.2 852.4,586.6 850.5,586.8 850,587.8 847.7,587.3 845.9,588 841.8,587.3 839.5,587.8 838,587.5 834.1,589 830.9,589.6 828.6,591.1 826.9,591.1 825.3,589.8 824,589.7 822.4,588 822.2,588.6 821.7,587.6 821.8,585.4 820.6,582.9 821.8,582.2 821.6,579.3 819.2,575.8 817.3,572.6 814.6,567.8 811.8,564.9 810.4,561.8 809.5,558.5 808.6,555.8 807.4,550 807.3,545.6 806.8,543.5 805.3,542 803.4,538.8 801.4,534.3 800.6,532 797.5,528.3 797.3,525.5 797,523.1 797.5,519.8 798.8,516.4 799,514.8 800.2,511.4 801.1,509.9 803.2,507.4 804.4,505.7 804.8,503 804.7,500.8 803.5,499.5 802.5,497.2 801.6,495 801.8,494.2 803,492.7 801.8,489.1 801.1,486.6 799.2,484.2 799.5,483.5 799,482.3 798,479.5 794.9,475.5 791.1,471.7 788.6,468.6 786.3,464.8 786.4,463.5 787.3,462.3 788.2,459.6 788.9,456.8 788.2,456.2 789.5,452 790.1,449.1 788.6,446.6 786.9,446 786.1,444.3 785.2,443.7 785.2,442.7 781.3,444.1 779.9,443.9 778.4,444.7 775.4,444.6 773.4,442.3 772.2,439.6 769.6,437.1 766.7,437.1 763.4,437.1 760.3,437.6 757.3,438.4 751.4,440.6 749.3,441.8 746,442.9 742.6,441.9 740.9,441.9 738.3,441.2 735.9,441.2 731.5,441.9 728.8,442.9 725.1,444.3 723.4,444.2 719.6,442.5 716.2,439.6 712.9,437.6 710.4,435.1 709.4,434.9 706.7,433.4 704.8,431.3 704.1,430 703.6,427.2 702,425 700.6,423.5 699.6,423 698.7,422.3 698.2,420.6 697.7,419.8 696.6,419.2 694.6,417.6 693,417.4 692.2,416.3 692.2,415.7 691,415 690.8,414.2 690.2,411.3 690.7,409.6 689.1,406.7 687.2,405.4 688.9,404.6 690.7,402 691.6,400.1 691.3,398.1 692.3,396.2 692.8,392.7 692.4,389 691.9,387.1 692.3,385.3 691.3,383.5 689.4,381.8 689.5,380.3 689.7,378.5 691.1,377.5 692.4,375.5 692.1,374.3 693.4,371.6 695.5,369.2 696.7,368.6 697.8,366.5 697.8,364.4 699.2,362.2 701.7,360.8 704.1,356.9 706,355.4 709.5,355 712.5,352.5 714.3,351.5 717.5,348.4 716.5,343.7 718,340.5 718.5,338.5 720.9,336 724.6,334.2 727.4,332.7 729.9,328.8 731.1,326.5 733.9,326.5 736.1,328.1 739.7,327.9 743.6,328.7 745.2,328.7 748.8,326.7 752.8,326 755.2,324.5 758.8,323.3 765.2,322.7 771.4,322.3 773.3,322.9 776.8,321.4 780.8,321.4 782.3,322.3 784.9,322 789,320.5 791.6,321 791.5,322.9 794.7,321.5 794.9,322.2 793.1,324.1 793,325.8 794.3,326.7 793.9,330 791.4,331.9 792.1,333.9 794,334 795,335.8 796.4,336.3 800.8,337.6 802.4,337.3 805.5,337.9 810.5,339.6 812.2,342.9 815.6,343.7 820.9,345.3 824.9,347.1 826.7,346.1 828.5,344.4 827.6,341.5 828.8,339.7 831.5,337.9 834.1,337.5 839.2,338.2 840.5,339.9 841.9,339.9 843.1,340.5 846.8,341 847.7,342.2 852.7,342.1 856.3,343.2 860,344.2 861.7,344.8 864.6,343.6 866.2,342.6 869.5,342.3 872.1,342.7 873.2,344.6 874,343.4 877,344.3 879.9,344.5 881.8,343.5 882.9,342.3 883.6,340.3 884.4,337.5 884.9,336.6 886.4,333.4 888.2,330.8 888,327.8 888.9,326.3 887.5,324.6 888.9,323.2 886.6,323.5 883.5,322.6 880.9,324.8 875.2,325.2 872.2,323.2 868.1,323.1 867.3,324.6 864.7,325.1 861,323.1 857,323.1 854.8,319.4 852,317.3 853.8,314.4 851.5,312.6 855.6,309 861.4,308.9 863,306 870.1,306.5 874.6,304.1 879,303 885.2,303 891.7,305.6 897.1,307 901.5,306.5 904.7,306.8 909.1,304.8 909.7,303.3 908.7,300.7 906.6,299.3 904.5,298.9 903.2,297.7 898.4,294.6 894.1,293.1 890.9,291 893.6,290.4 896.7,287.2 894.6,285.7 900.1,284.2 900,283.4 896.6,284 893.7,284.3 891.2,285.5 887.6,285.7 884.4,287.1 884.6,289.4 886.5,290.3 890.3,290.1 889.5,291.4 885.5,292.1 880.4,294.3 878.3,293.5 879.1,291.7 875,290.6 875.7,289.9 879.3,288.7 878.2,287.8 872.3,286.9 872.1,285.4 868.6,285.9 867.2,288 864.3,290.8 864.4,291.7 862.6,292.5 861.5,292.2 860.4,296.7 858.5,298.3 857.1,300.9 858.3,303.1 858.8,304.5 862,305.7 861.3,306.7 856.9,306.9 855.3,308 852.2,310 851,308.3 851,307.5 848.8,307.4 846.8,307 842.2,308 844.9,310.2 842.9,310.8 840.8,310.8 838.9,308.8 838.2,309.6 839,311.9 840.9,313.6 839.5,314.5 841.6,316.2 843.4,317.3 843.5,319.4 840,318.4 841.1,320.3 838.7,320.7 840.1,324 837.7,324.1 834.6,322.5 833.2,319.5 832.5,316.9 831.1,315.2 829.1,313.1 828.9,312 828.2,311.8 828.2,310.9 826.1,309.7 825.8,307.9 826.1,305.3 826.6,304.2 826,303.6 825.2,303.3 824.1,302.1 822.5,301.3 819,299.9 816.8,298.6 813.4,297.4 810.2,294.7 811,294.4 809.3,292.8 809.2,291.6 806.8,291 805.6,292.6 804.5,291.3 804.6,290.1 805.6,289.6 802.6,289.1 799.6,290.4 799.7,292.3 799.3,293.4 800.5,295.3 804.1,297.1 805.9,300.3 810.1,303.3 813.1,303.3 814,304.1 812.9,304.8 816.3,306.2 819,307.3 822.2,309.3 822.6,310 821.9,311.3 819.8,309.6 816.6,309 815,311.4 817.7,312.8 817.3,314.7 815.7,315 813.7,318.1 812.1,318.4 812.2,317.3 812.9,315.3 813.7,314.5 812.3,312.3 811.1,310.4 809.6,310 808.4,308.4 806,307.6 804.4,306.1 801.7,305.9 798.7,304.2 795.3,301.8 792.7,299.6 791.6,295.9 789.7,295.5 786.7,294.2 784.9,294.7 782.8,296.5 781.2,296.8 777.8,298.9 770.4,297.9 764.9,299.1 764.5,301.3 764.7,303.5 761.2,306 756.4,306.8 756,308.1 753.7,310.2 752.3,313.2 753.7,315.3 751.6,317 750.8,319.5 747.9,320.2 745.3,323.1 740.5,323.1 736.9,323.1 734.6,324.4 733.2,325.8 731.3,325.5 729.9,324.2 728.9,322.1 725.4,321.5 723.9,322.5 721.9,321.9 720,322.3 720.5,319.4 720.2,317.1 718.5,316.8 717.6,315.3 717.9,312.9 719.4,311.5 719.7,310 720.4,307.8 720.4,306.2 719.6,304.8 719.5,303.6 719.7,300.9 718.1,299.2 723.4,296.5 728,297.2 733,297.2 737,297.9 740.1,297.6 746.2,297.8 748.1,295.5 748.9,288.1 745,284.1 742.2,282.2 736.5,280.8 736.1,278.1 741,277.2 747.2,278.2 746.1,273.9 749.6,275.5 758.3,272.6 759.5,269.5 762.7,268.8 765.7,268 767.7,267 771,261.5 776.1,259.9 779.2,260.1 779.9,259.3 783.1,259 783.8,259.9 786.3,258 785.5,256.6 785.3,254.5 783.8,252.4 783.7,248.6 784.3,247.6 785.3,246.4 788.6,246.2 790,245.2 793,244.1 792.9,246 791.8,247.3 792.2,248.3 794.2,248.9 793.3,250.3 792.2,249.9 789.5,252.6 790.5,254.4 790.6,255.9 794.4,256.8 794.3,258.1 798.2,257.4 800.3,256.3 804.5,257.8 806.3,259 808.8,257.9 814.7,256.2 819.4,254.9 823.1,255.6 823.4,256.5 827,256.5 827.9,254.8 833.1,253.6 832.3,250.5 832.4,247.7 834.2,245.3 837.8,244 840.8,246.8 843.8,246.7 844.5,243.9 844.9,241.7 843.5,242.1 841.2,240.8 840.8,238.7 845.6,237.6 850.3,237.1 854.4,237.7 858.2,237.6 862.5,235.5 858.6,233.7 851.8,234 845.2,235.4 839.1,236.2 836.9,234.2 833.3,232.9 834.1,229.2 832.3,225.8 834.1,223.7 837.5,221.3 846.1,217.2 848.6,216.5 848.2,214.9 842.9,213.1 836.5,214.2 832.9,216.8 833.5,219.1 827.5,222.1 820.3,225.3 817.5,230.6 820.2,233.2 823.8,235.3 820.3,239.6 816.4,240.4 815,246.7 812.9,250.2 808.3,249.9 806.2,252.8 801.8,253 800.7,249.4 797.5,245.2 794.7,239.9 792.2,237.6 784.7,242 779.8,242.8 774.6,240.9 773.2,236.9 772,228.2 775.5,225.8 785.4,222.7 792.8,218.8 799.7,213.6 808.7,206.3 815,203.5 825.2,198.8 833.5,197.1 839.6,197.4 845.4,194.3 849.7,194M78.4,202 87.6,204.9 97.4,208.6 97.1,210.9 99.6,211.8 98.8,209.1 108.9,209.7 116.3,213.2 112.6,214.8 106.4,215.2 106.3,218.9 104.8,219.7 101.3,219.6 98.5,218.3 93.5,217.2 92.6,215.5 88.8,214.9 84.5,215.4 82.5,214.1 83.3,212.7 78.8,213.6 80.5,215.4 78.4,216.9M928.4,293.3 932.1,289.5 935.7,288.8 937.4,286.6 940.9,285.8 945.3,284.2 948.5,285.1 952.2,284.9 952.9,287.2 952.2,290.9 948.9,290.3 945.8,290.9 945.6,293.7 942,293.3 942.1,294.6 944.1,295.5 945.8,298.9 950.2,300.1 950.9,301.5 950,303 950.2,303.9 951.3,306.3 951.8,303.6 954.8,302.7 955.8,304.8 955.3,308.2 951.8,307.3 950.9,310.5 953.4,310.7 952.4,313.3 955.4,314.5 954.8,318.4 955.5,321.1 955.2,322 949.3,323 944,322.3 941.4,320.5 937.8,319.7 936.6,316.9 936.5,315 937.9,314.2 938.6,312.9 939.2,309.9 942.3,309.6 941.1,308.6 939.4,308.5 937.5,305.8 935.5,303.8 933.3,301.9 931.4,299.4 931.8,296.9 929.6,294.9 928.4,293.3M742.1,240.7 738.1,244.8 741.9,244.3 746,244.3 745,247.3 741.6,250.7 745.5,250.9 749.2,255.8 751.7,256.4 754,260.6 755.1,262.1 759.6,262.8 759.2,265.2 757.3,266.3 758.8,268.3 755.4,270.2 750.4,270.2 744,271.2 742.2,270.5 739.8,272.2 736.3,271.8 733.6,273.3 731.7,272.5 737.2,268.6 740.5,267.7 734.7,267.1 733.6,265.6 737.5,264.5 735.4,262.5 736.2,260 741.7,260.4 742.3,258.2 739.7,255.8 735.2,255.1 734.3,254.1 735.6,252.4 734.4,251.4 732.4,253.2 732.2,249.6 730.3,247.6 731.6,243.8 734.5,240.8 737.5,241.1 742.1,240.7M730.1,258.6 730.7,261.3 727.9,264.6 721.2,266.8 715.9,266.3 718.9,262.4 717,258.6 722.1,255.6 724.9,253.9 728.1,253.7 732.1,256 730.1,258.6M698.9,211.4 698.1,213.8 702.3,216.4 697.4,219.3 686.6,221.8 683.4,222.5 678.4,222 668,220.8 671.7,219.1 663.5,217.3 670.2,216.6 670,215.4 662.1,214.6 664.6,212.1 670.3,211.6 676.2,214.1 681.9,212.1 686.6,213.2 692.7,211.1 698.9,211.4M810.1,161.9 811.5,160.5 817,160.4 821.8,161.7 834.1,164.5 824.7,166 822.6,168.8 819.3,169.5 817.5,172.6 813,172.7 804.9,170.4 808.3,169.1 802.7,168 795.4,164.9 792.5,161.9 802.7,160.6 804.8,161.9 810.1,161.9M839.3,166.4 840.6,167.8 846,168.7 837.7,170.2 831.1,169.3 833.6,168.3 831.4,167.2 839.1,166.4 839.3,166.4M821.8,161.7 818.5,159.4 830,158.4 835.5,159.3 839.3,158.1 848.8,159.1 856.1,160.4 850.5,162.4 839.6,162.9 828.6,162.2 827.9,161.2 822.5,161.1 821.8,161.7M946.3,190.6 950.1,189.8 950,187.7 957.4,184.5 954,184.1 962.9,180.8 961.9,179.1 970.3,177.1 982.7,174.7 995.2,174 1001.6,172.6 1008.9,172.1 1011.5,173.6 1009,174.8 995.7,176.6 984.2,178.4 972.6,182 967,185.6 961.1,189.2 961.9,192.3 969.1,195.4 966.8,195.8 954.6,195.3 953.6,193.6 946.8,192.6 946.3,190.6M1128.1,164.8 1119.9,165.3 1109.4,164.2 1103.2,162.8 1100.3,160.1 1095.2,159.3 1105,156.8 1113.1,155.9 1120.3,157.8 1129,161.4 1128.1,164.8M1128.6,163.1 1138.9,163.3 1148.4,165.5 1147.3,167 1126.2,168.4 1133,163.5 1128.6,163.1M1273.9,175.1 1283.8,175.3 1297.4,177.3 1294.4,180 1280.6,179.9 1274.4,180.8 1266.9,178.4 1268.9,175.8 1273.9,175.1M1301.2,178.7 1302.1,177.5 1309.1,178.1 1318.5,179.1 1314.2,180.5 1308.2,180.2 1301.2,178.7M1277.7,185.5 1281.3,184 1286,183.6 1291.3,185.1 1291.8,186.1 1286.1,186.1 1278.4,185.7 1277.7,185.5M1423.5,194 1428.2,192.4 1434.2,193.1 1437.1,193.5 1432.2,195.2 1428.2,195 1424.1,195.2 1423.5,194M78.4,192.4 84.4,193.1 87.2,193.5 82.3,195.2 78.4,195M1289.2,259.2 1290.5,262.8 1290.4,266.5 1292,270.3 1295.7,276.9 1290.2,275.7 1287.9,281.1 1291.5,285 1291.4,287.6 1288.6,285.3 1286.1,288.2 1285.4,285.1 1285.8,281.4 1285.4,277.4 1286.3,274.5 1286.4,269.5 1284.2,265.8 1284.6,260.7 1288.1,259 1286.6,257.2 1288.2,256.7 1289.2,259.2M1292.9,295 1295.6,295.8 1298.2,294.2 1299,298.4 1293.5,299.4 1290.2,303.1 1284.3,300.6 1282.3,304.7 1278.1,304.7 1277.6,301 1279.4,298.1 1283.4,297.9 1284.5,292.7 1285.7,289.8 1290,293.7 1292.9,295M1281.9,321.3 1280.5,324.3 1281.2,326.2 1279.2,328.8 1274.4,330.6 1267.8,330.8 1262.5,335.1 1260,333.7 1259.8,330.9 1253.3,331.7 1248.9,333.5 1244.5,333.5 1248.3,336.3 1245.8,342.7 1243.4,344.2 1241.5,342.8 1242.5,339.4 1240.1,338.3 1238.6,335.7 1242.1,334.6 1244.1,332.2 1247.8,330.3 1250.6,327.7 1258.1,326.6 1262.1,327.4 1266,320.7 1268.5,322.5 1274,318.7 1276.1,317.3 1278.5,312.7 1277.8,308.5 1279.4,306.1 1283.4,305.4 1285.4,310.6 1285.3,313.7 1281.9,317.5 1281.9,321.3M1258.2,332.5 1258.7,333.8 1256.5,336.1 1255,334.9 1253.1,335.8 1252.1,338 1249.6,336.9 1249.7,335.1 1251.7,332.9 1253.9,333.3 1255.4,331.8 1258.2,332.5M1209.9,369.1 1207.7,375.1 1206.1,378.2 1204.1,375.1 1203.7,372.2 1205.9,368.6 1208.9,365.7 1210.6,366.9 1209.9,369.1M1167.1,390.5 1163.8,392.3 1160.8,391.2 1160.6,388 1162.5,386.3 1166.6,385.2 1168.7,385.3 1169.6,386.7 1167.9,388.4 1167.1,390.5M1060,432.4 1059.4,436.3 1057.9,437.3 1054.6,438.2 1052.8,435.2 1052.2,429.8 1053.9,423.8 1056.4,425.8 1058.2,428.5 1060,432.4M1208.2,391.2 1210.5,392.3 1211.7,391.3 1212,392.3 1211.4,393.8 1212.7,396.5 1211.7,399.6 1209.5,400.9 1208.9,403.9 1209.8,406.9 1211.7,407.3 1213.4,406.8 1218.1,408.9 1217.7,410.9 1218.9,411.8 1218.6,413.6 1215.6,411.7 1214.3,409.8 1213.3,411.1 1210.9,408.9 1207.5,409.4 1205.6,408.6 1205.8,407.1 1207,406.1 1205.9,405.2 1205.4,406.6 1203.5,404.5 1203,402.8 1202.8,399.2 1204.4,400.5 1204.7,394.6 1206,391.2 1208.2,391.2M1209,411.6 1208,414.8 1206.4,413 1204.5,410.1 1207.7,410.2 1209,411.6M1202.1,421 1199.6,423.1 1197.7,425.6 1192.7,429.2 1194.5,426.6 1197.2,424.3 1199.5,421.7 1201.4,418 1202.1,421M1210.9,417.8 1210.3,416 1212.6,417.2 1215,417.2 1214.9,418.7 1213.2,420.3 1210.8,421.4 1210.7,419.7 1210.9,417.8M1214.5,426.8 1212.2,424.2 1213,423.2 1213.9,422.1 1214.3,419.8 1216.4,419.6 1215.8,422.1 1218.6,418.5 1218.2,422 1216.8,423.3 1215.7,425.6 1214.5,426.8M1222.9,413.6 1223.9,415 1224.9,419.2 1222.1,418.2 1222.1,419.4 1223.1,421.7 1221.3,422.6 1221.1,419.9 1220,419.8 1219.4,417.5 1221.6,417.8 1221.6,416.4 1219.3,413.5 1222.9,413.6M1227.2,429.1 1227.6,431.5 1227.8,433.6 1226.5,437.1 1225.1,433.3 1223.4,435.1 1224.6,437.9 1223.5,439.7 1219.1,437.5 1218,434.8 1219.2,433 1216.8,431.2 1215.6,432.8 1213.9,432.6 1211.1,434.7 1210.5,433.6 1211.9,430.5 1214.3,429.4 1216.4,428 1217.7,429.7 1220.5,428.7 1221.1,427 1223.8,426.9 1223.6,424 1226.6,425.8 1226.9,427.7 1227.2,429.1M1195.3,445.1 1193.2,448.5 1196,452 1195.3,453.7 1199.5,457.2 1195.1,457.7 1193.8,460.2 1194,463.6 1190.4,466.2 1190.3,469.9 1188.8,475.6 1188.3,474.3 1184,476 1182.5,473.7 1179.9,473.5 1178,472.3 1173.5,473.6 1172.2,471.8 1169.7,472 1166.6,471.6 1166,466.5 1164.2,465.5 1162.4,462.3 1161.8,459 1162.3,455.6 1164.5,453.1 1167.3,454.4 1170.2,453.7 1170.9,450.5 1172.5,449.8 1177,449 1179.7,446 1181.5,443.6 1183.3,445.6 1184,444.3 1185.8,444.4 1186.1,440.2 1189.1,437.6 1191,434.6 1192.5,434.6 1194.4,436.5 1194.6,438.1 1197.1,439.2 1200.2,440.3 1199.9,441.8 1197.4,442 1198.1,443.8 1195.3,445.1M1150.1,482.5 1145.9,482.6 1142.8,479.5 1138,476.4 1136.4,474.1 1133.5,471.1 1131.7,468.3 1128.8,463 1125.5,459.9 1124.4,456.7 1123,453.8 1119.7,451.4 1117.7,448.2 1114.9,446.1 1111,442 1110.6,440 1113.1,440.2 1118.8,440.9 1122.2,444.6 1125.1,447.1 1127.1,448.7 1130.7,452.7 1134.5,452.8 1137.7,455.3 1139.8,458.5 1142.7,460.2 1141.2,463.3 1143.3,464.6 1144.7,464.6 1145.3,467.3 1146.6,469.4 1149.4,469.7 1151.2,472.1 1150.3,476.7 1150.1,482.5M1160.6,486 1167.8,486.4 1168.6,484.8 1175.6,486.6 1177,489 1182.6,489.8 1187.2,492 1182.9,493.4 1178.8,491.9 1175.4,492 1171.5,491.7 1168,491 1163.6,489.6 1160.9,489.2 1159.3,489.7 1152.5,488.1 1151.8,486.5 1148.4,486.3 1151,482.7 1155.5,482.9 1158.5,484.4 1160.1,484.7 1160.6,486M1222.9,455.3 1219.9,459 1217.1,459.7 1213.5,459 1207.2,459.2 1203.9,459.7 1203.4,462.5 1206.8,465.9 1208.8,464.2 1215.8,462.9 1215.5,464.6 1213.8,464.1 1212.2,466.3 1208.9,467.7 1212.5,472.5 1211.8,473.8 1215.2,478.1 1215.1,480.6 1213.1,481.7 1211.7,480.4 1213.5,477.3 1209.8,478.8 1208.9,477.7 1209.3,476.3 1206.6,474.1 1206.9,470.4 1204.4,471.6 1204.7,476 1204.9,481.3 1202.5,481.8 1200.9,480.8 1202,477.3 1201.4,473.7 1199.8,473.7 1198.7,471.1 1200.2,468.6 1200.7,465.6 1202.6,460 1203.4,458.5 1206.6,455.7 1209.5,456.8 1214.3,457.3 1218.6,457.1 1222.3,454.4 1222.9,455.3M1191,492 1193.1,492.1 1195.4,491 1196.7,491.9 1199.1,491.6 1200,493.2 1195.7,494 1193.1,494.5 1191,494.4 1191,492M1206,491.5 1208.3,492.6 1210.8,492.3 1214.1,490.9 1213.6,493 1208,494.1 1203,493.6 1203,492.2 1206,491.5M1204.4,499.1 1199.4,496.4 1202.9,495.7 1204.9,496.8 1206.2,498 1204.4,499.1M1221.9,493.9 1222.4,493.1 1225.6,492.2 1228.2,492.1 1229.4,491.6 1230.8,492.1 1229.4,493.1 1225.5,494.7 1222.4,495.8 1219.9,498.6 1216.7,499.4 1216.2,499 1216.6,497.7 1218.2,495.4 1221.9,493.9M1233,452.5 1233.3,454.5 1235.5,454.8 1235.9,456.4 1235.7,459.6 1233.7,459.2 1233.2,461.5 1234.7,463.5 1233.6,464 1232.1,461.6 1231,456.8 1231.8,453.8 1233,452.5M1242.5,472.2 1243.9,475.1 1240.7,473.5 1237.6,473.2 1235.5,473.4 1232.9,473.3 1233.8,471.2 1238.4,471.1 1242.5,472.2M1230.5,473.6 1229,474.8 1226.4,474.1 1225.7,472.5 1229.5,472.3 1230.5,473.6M1256.3,464.9 1257.3,471 1261.2,473.2 1264.4,469.2 1268.7,467 1272,467 1275.2,468.3 1278,469.6 1282,470.3 1288.5,472.9 1295.4,475.1 1298,477 1300.1,478.9 1300.7,481.1 1306.9,483.4 1307.8,485.4 1304.4,485.8 1305.2,488.3 1308.6,490.7 1311,494.7 1313.2,494.6 1313,496.2 1315.9,496.9 1314.8,497.6 1318.8,499.2 1318.3,500.3 1315.9,500.5 1314.9,499.5 1311.7,499.1 1307.9,498.6 1305,496.2 1302.9,494.1 1300.9,490.8 1296,489.2 1292.9,490.3 1290.6,491.5 1291.1,494.3 1288.1,495.6 1286,494.9 1282.1,494.8 1278.8,491.7 1275,491 1274.1,492 1269.3,492.1 1270.9,489.1 1273.3,488 1272.3,483.9 1270.5,480.8 1263.2,477.6 1260.1,477.3 1254.5,473.9 1253.4,475.7 1251.9,476 1251.1,474.6 1251.1,473 1248.2,471.2 1252.3,469.8 1254.9,469.9 1254.6,468.9 1249.1,468.9 1247.7,466.7 1244.3,465.9 1242.7,464.1 1247.8,463.2 1249.7,462 1255.7,463.5 1256.3,464.9M1323.8,476.1 1324.5,476.7 1324.5,478.8 1323.2,481.1 1321.2,481.4 1320.6,482.5 1318.6,483.4 1316.7,484.3 1314.7,484.3 1311.6,483.2 1309.5,482.1 1309.8,481 1313.1,481.5 1315.2,481.2 1315.8,479.4 1316.3,479.3 1316.7,481.3 1318.8,481.1 1319.8,479.7 1321.9,478.4 1321.5,476.2 1323.8,476.1M1327.5,477.5 1326.4,478.5 1325.7,476.3 1324.8,474.8 1323.1,473.6 1320.9,472 1318.2,470.9 1319.3,470 1321.3,471 1322.6,471.8 1324.2,472.7 1325.7,474.3 1327.1,475.5 1327.5,477.5M1333.6,480.6 1334.7,481.5 1336.6,483.8 1338.3,485.1 1337.8,486.2 1336.8,486.5 1335.1,485.1 1333.5,482.7 1332.7,479.9 1333.2,479.5 1333.6,480.6M1340.3,485.3 1342.5,486.9 1344,488.1 1343.3,488.3 1341.6,487.5 1340.1,486 1340.3,485.3M1351.9,490.7 1352.8,491.9 1353,492.6 1350,491 1348,489.6 1346.5,488.4 1347.1,488 1348.8,488.9 1351.9,490.7M1356.7,491.8 1358.1,494.8 1359.6,496.6 1359,497.3 1356.2,494 1355.4,491.8 1356.7,491.8M1352.1,495.2 1354.6,495.8 1355.8,496.6 1356.4,497.6 1355,497.7 1352.7,497.3 1351.9,496.7 1352.1,495.2M1359.6,498.9 1361.2,499.9 1362.3,501.2 1359.6,501.2 1358.2,498.8 1359.6,498.9M1380.2,520.2 1382.7,522.3 1381.5,522.8 1380.2,521.2 1380.2,520.2M1378.1,515.4 1379.9,516.6 1380.5,519.6 1379.5,519.1 1378.7,519.3 1378.2,518.3 1378.1,515.4M1374.9,539.6 1378,542 1380,543.7 1378.5,544.6 1376.5,543.6 1373.8,541.9 1371.4,539.9 1368.9,537.2 1368.4,536 1370,536 1372.1,537.3 1373.7,538.6 1374.9,539.6M1422.1,525.6 1423.4,526.7 1422.8,528.6 1420.5,529.2 1418.4,528.7 1418.1,527 1419.5,525.8 1421.2,526.2 1422.1,525.6M1425.8,523.6 1423.5,524.4 1423,523 1424.9,522.2 1426,522 1428.2,520.8 1428.2,522.7 1425.8,523.6M1291.6,512.2 1293,515.1 1295.4,513.7 1298.4,516.8 1298,518.4 1298.8,521.7 1301.4,527.2 1301,529.1 1302.2,531.7 1306.3,533.6 1311.4,537 1311,537.9 1313.1,540.3 1314.6,544.4 1316.1,543.5 1317.6,545.2 1318.5,544.6 1319.1,548.6 1321.8,550.9 1323.5,552.3 1326.5,555.3 1327.5,558.3 1327.6,560.5 1327.3,562.8 1329.1,566 1328.9,569.3 1327.3,574.4 1327.3,576.5 1326.6,579.2 1324.9,582.6 1322.2,584.5 1320.8,587.4 1319.5,589.2 1318.4,592.5 1317,594.3 1316.1,597.1 1315.6,599.7 1315.7,600.9 1313.6,602.2 1309.4,602.4 1305.9,603.9 1304.2,605.4 1302,607 1298.8,605.3 1296.6,604.6 1297.1,602.7 1295.1,603.4 1291.8,606.1 1288.6,605.1 1286.4,604.5 1284.3,604.2 1280.7,603.1 1278.2,600.8 1277.6,598 1276.7,594.6 1274.8,594.6 1271.2,594.1 1272.5,592.3 1271.6,589.5 1269.7,592.1 1266.4,592.8 1268.3,590.7 1268.9,588.6 1270.4,586.7 1270.1,583.9 1267,587.1 1264.7,588.4 1263.2,591.4 1260.3,589.9 1260.4,587.9 1258.1,585.1 1256.1,583.8 1256.8,582.9 1252,580.6 1249.4,580.5 1245.8,578.7 1239,579 1234.2,580.4 1229.9,581.6 1226.3,581.4 1222.4,583.3 1219.1,584.2 1218.4,586.1 1217,587.7 1213.8,587.7 1211.4,588.1 1208.1,587.4 1205.4,587.8 1202.9,588 1200.6,590 1199.6,589.8 1197.7,590.9 1195.8,592 1193.1,591.9 1190.6,591.9 1186.6,589.5 1184.6,588.8 1184.7,586.6 1186.6,586.2 1187.2,585.3 1187.1,583.9 1187.5,581.4 1187.1,579.1 1185.1,575.3 1184.5,573.2 1184.7,571.1 1183.2,568.6 1183.1,567.5 1181.4,566 1181,563.1 1178.8,560.1 1178.3,558.5 1180,560.1 1178.7,556.7 1180.6,557.7 1181.6,559.2 1181.6,557.3 1179.7,554.3 1179.4,553.1 1178.5,552 1178.9,549.9 1179.7,548.9 1180.2,547.1 1179.8,544.9 1181.3,542.2 1181.6,545 1183.2,542.4 1186.3,541.2 1188.1,539.6 1190.9,538.2 1192.7,537.9 1193.7,538.4 1196.6,537 1198.9,536.6 1199.5,535.7 1200.5,535.4 1202.6,535.5 1206.5,534.4 1208.5,532.7 1209.5,530.7 1211.7,528.8 1211.9,527.3 1211.9,525.3 1214.6,522.1 1216.1,525.3 1217.7,524.6 1216.4,522.8 1217.6,521 1219.2,521.8 1219.7,519 1221.8,517.1 1222.7,515.6 1224.5,515 1224.6,513.9 1226.3,514.4 1226.3,513.5 1227.9,512.9 1229.8,512.4 1232.5,514.1 1234.6,516.3 1237,516.4 1239.3,516.7 1238.6,514.7 1240.4,511.7 1242,510.7 1241.4,509.7 1243.1,507.6 1245.3,506.3 1247.3,506.7 1250.4,506 1250.4,504.1 1247.6,502.8 1249.6,502.3 1252.1,503.3 1254.1,504.8 1257.2,505.7 1258.3,505.4 1260.6,506.5 1262.8,505.4 1264.2,505.8 1265.1,505.1 1266.8,506.9 1265.9,508.9 1264.4,510.4 1263.1,510.5 1263.6,512 1262.4,513.9 1261.1,515.8 1261.4,516.8 1264.4,518.9 1267.3,520.1 1269.2,521.4 1271.9,523.6 1273,523.6 1274.9,524.6 1275.5,525.7 1279.1,527 1281.6,525.7 1282.3,523.7 1283,522 1283.5,520 1284.6,517 1284.1,515.2 1284.4,514.1 1284,512 1284.5,509.1 1285.2,508.4 1284.6,507.1 1285.5,505.1 1286.2,503.1 1286.3,502 1287.7,500.6 1288.8,502.4 1289,504.8 1290,505.2 1290.1,506.8 1291.5,508.7 1291.8,510.8 1291.6,512.2M1298.5,613.5 1302.1,614.8 1304.2,614.3 1307.1,613.6 1309.3,613.9 1309.6,618.3 1308.3,619.6 1307.9,622.6 1306.6,621.6 1304,624.2 1303.2,624 1300.9,623.9 1298.6,620.7 1298.1,618.2 1296,614.9 1296,613.2 1298.5,613.5M1416.6,610.8 1415.2,612.8 1413.3,615.4 1410.4,616.9 1409.8,615.9 1408.2,615.4 1410.4,612.3 1409.1,610.2 1405.1,608.7 1405.2,607.4 1407.9,606.1 1408.5,603.2 1408.4,600.7 1406.8,598.2 1407,597.6 1405.2,596 1402.2,592.7 1400.7,590.1 1402,589.8 1404.1,591.9 1407,592.8 1408,596.2 1410.8,600.1 1410.8,597.6 1412.5,598.6 1413.1,601.4 1416.1,602.6 1418.6,602.9 1420.8,601.5 1422.7,601.9 1421.8,605.2 1420.6,607.5 1417.8,607.4 1416.8,608.5 1417.1,610.1 1416.6,610.8M1389.5,623.9 1392.7,621.9 1395,620 1396.6,617.2 1398.1,616.2 1398.6,614.2 1401.3,612.4 1402.1,614 1402.9,615.6 1405.6,614.1 1406.7,615.6 1406.7,617.2 1405.3,618.9 1402.8,621.7 1400.9,623.2 1402.3,625 1399.4,625.1 1396.2,626.5 1395.2,628.9 1393.1,632.7 1390.1,634.4 1388.2,635.5 1384.8,635.4 1382.4,634.2 1378.3,633.9 1377.7,632.5 1379.7,629.7 1384.4,626 1386.8,625.3 1389.5,623.9M939.1,507.3 940.1,509 941,511.4 941.6,515.9 942.6,517.7 942.2,519.5 941.6,520.6 940.3,518.4 939.6,519.5 940.3,522.3 939.9,523.9 938.9,524.7 938.7,527.9 937.2,532.3 935.4,537.5 933,544.5 931.6,549.8 929.9,554.1 926.9,555 923.6,556.6 921.4,555.6 918.5,554.3 917.4,552.3 917.2,549 915.9,546 915.5,543.3 916.2,540.6 917.9,539.9 917.9,538.7 919.7,535.8 920,533.5 919.2,531.7 918.5,529.3 918.2,525.9 919.5,523.8 920,521.4 921.8,521.3 923.9,520.5 925.3,519.8 927,519.8 929.1,517.6 932.2,515.3 933.3,513.4 932.8,511.8 934.4,512.3 936.5,509.7 936.5,507.4 937.8,505.7 939.1,507.3M811.5,317.2 810.2,320.2 810.7,321.4 809.9,323.3 807.1,321.9 805.2,321.5 799.9,319.6 800.5,317.6 804.8,318 808.7,317.6 811.5,317.2M787.9,306.1 790.1,308.7 789.6,313.7 787.9,313.5 786.4,314.7 784.9,313.7 784.8,309.2 783.9,307 786,307.2 787.9,306.1M789.2,302.5 787.9,305.4 786.2,304.7 785.3,302.1 786.1,300.7 788.5,299.3 789.2,302.5M842.2,326.7 844.3,328 847.2,327.8 850,328 849.9,328.7 851.9,328.2 851.4,329.4 846,329.7 846.1,329.1 841.5,328.3 842.2,326.7M876,328.8 876.8,329 878.5,328.8 880.7,329.1 880.8,329.4 877,331 875.1,330.5 874.3,329 876,328.8 876.3,328.8 883,326.8 880.4,328.4M1011.8,642.9 1014.2,644.1 1017.8,644.6 1017.9,645.3 1016.8,647 1011.1,647.2 1011,645.2 1011.6,643.7 1011.8,642.9M931.4,159.9 940.8,157.8 950.2,158.4 961.4,157.2 976.4,157.8 985.8,158.4 974.5,159.5 959.6,160.1 944.6,160.6 931.4,159.9M536.6,697.9 538.8,698.7 537.3,700.2 533.6,701.1 532.1,702.1 529.1,701.3 526.1,701.7 520.9,703.6 519,704.7 518.4,706.2 518.6,707.5 520.5,708.8 517.9,709.6 514.3,709.9 512.2,711.2 510,712.4 507.7,714.1 507,715.6 508.5,717.1 510.4,718.2 513.5,718.9 516.4,720.1 517.9,721.6 518.7,723.1 519.8,724.6 521.6,725.7 522.7,727.2 523.1,730.6 524.2,732.1 524.6,733.6 525.7,735.1 525.3,736.9 523.1,738.4 520.9,739.6 516,740.3 514.3,741.4 512,742.9 506.2,744.1 501.4,744.8 496.9,745.6 491.6,746.3 488.6,747.8 482.6,748.2 475.9,747.8 469.9,748.2 463.9,748.2 465,749.7 470.6,750.4 474.7,751.6 477,752.7 472.9,753.8 466.5,753.4 461.2,754.6 460.9,757.6 465.4,758.7 466.1,760.2 470.6,761.7 478.9,762.1 485.6,763.2 490.9,764.3 497.6,765.4 507,766.2 516,767.1 522.5,768.1 529.5,769.6 533.2,771.2 535.1,772.6 539.6,771.3 545.6,770.2 552.3,769 560.2,768.1 566.6,767 576,766.9 585.3,767.5 592.8,768.4 595.1,766.7 600.3,765.7 610.1,765.6 617.2,764.7 624.3,763.9 632.2,763.4 640.5,762.8 646.3,761.8 643.6,760.5 642,759.2 642,757.8 634.8,757.9 627,758.5 619.8,758.5 618.7,757.1 619.1,754.3 621,753.4 626.2,752.7 632.6,751.7 640.8,749.7 645,748.1 650.2,747.4 655.1,746.9 657.7,746.6 663.7,746.5 669,745.9 673.8,745.2 678.3,744.3 687.7,742.3 691.1,741.1 694.5,739.9 695.6,738.4 691.5,737.6 693,736 695.6,734.9 699.3,734.1 703.5,733.2 707.2,732.1 710.2,730.6 712.1,728.8 714.7,727.8 719.2,727.9 721.1,729.2 725.6,729.4 725.7,728 727.6,726.5 731.6,726.9 732.7,728.3 737.2,728.5 741.9,727.9 746.6,727.4 750.8,727.7 752.5,729.2 756.6,727.9 760.4,727.3 768.8,726.2 772.7,725.4 776.8,724.8 780.1,724 782.3,722.6 785.2,723.6 788.9,723.1 793.8,726.1 798.1,725.5 799.8,724 803.6,722.9 808.4,723.2 810.1,724.6 813.1,723.2 817.2,722.7 821.6,722.6 825.5,722.7 829.8,723.1 833.8,723.3 835.4,724.6 838,725.7 842.1,725 846.5,724.9 850.7,724.9 854.9,724.8 858.7,724.3 862.6,723.8 865.9,722.8 869.4,722.2 873.3,721.8 876.1,720.7 878.2,718.7 880.3,717.4 884.2,718 885.7,719.3 888.9,720.2 892.8,719.9 895.4,721.3 898.2,722.2 902.1,721.3 903.4,719.7 906.8,719 910.7,717.8 918.7,716.6 927.7,714.1 931.2,714.5 937,712.1 940.5,712.2 943.6,711.4 944.4,710 947.5,709 950.6,708.2 954.3,707.7 957.8,707.4 961.1,707.6 964.7,707.9 967.6,709 968,710.6 971.3,711.8 973.6,712.9 978.1,713.3 980.5,714.4 983.7,715.4 987.3,715.6 990.3,714.9 993.5,713.3 997,714.1 1000.7,714.6 1004.2,715 1007.9,715.3 1011.6,715.3 1014.7,719.2 1014.6,720.2 1014.1,721.9 1010.5,722.8 1007.6,724.2 1008.1,725.7 1012.3,725.6 1011.8,727.1 1009.9,728.5 1008.1,730 1011,731.2 1015.3,731.5 1019.6,730.9 1021.7,729.4 1023,728 1025,726.8 1027.3,725.8 1028.3,724.4 1030.3,722.6 1032.6,722.2 1036.9,722.1 1040.7,721.6 1044.4,721 1046.3,719.6 1047.4,718.2 1050,716.8 1053.6,715.8 1056.8,715.1 1058.8,713.8 1061,713.2 1063.7,712.6 1067.5,713 1070.8,712.6 1074.5,712.1 1078.6,712.4 1081.3,711.4 1083.2,708.8 1084.6,709.9 1086.4,711.6 1089.5,712.4 1093.1,712.7 1096.7,712.2 1100.6,712.5 1104.1,712.6 1106.5,712.2 1109.6,712.4 1112.5,713.3 1115.8,712.7 1119.9,712.7 1123.3,712.2 1127.2,712.7 1129.7,711.5 1131.6,710.2 1134.2,709.2 1138.9,706.4 1141.3,706.9 1144.2,707.9 1146.7,709.3 1151.5,711.5 1155.1,711.6 1158.6,711.6 1162.6,711.2 1166.7,710.7 1169.8,709.7 1172.3,708.5 1176.5,708.4 1179.3,707.6 1182.2,708.3 1184.2,709.5 1186.8,710.7 1190.9,710.5 1193.4,711.5 1197.9,712.4 1202.6,712.8 1206.5,712.5 1209.5,711.4 1212,710.2 1215.3,709.9 1218.7,710.4 1222.6,710.8 1226.1,710.2 1229.5,710.2 1232.8,710.5 1236.3,710.9 1239.6,710.2 1243.7,709.7 1247.5,709.5 1251.8,709.5 1255.2,709.1 1258.6,708.8 1259.6,707 1259.8,705.5 1262.1,706.5 1262.8,708.2 1264.1,709.7 1265.6,711 1268.7,711.6 1273,711.4 1277.9,711.4 1281.3,711.1 1286.2,711.1 1289.7,711.1 1294.7,711.2 1298.8,711.5 1301.5,712.7 1300.8,714.1 1303.2,715.2 1307.2,716 1311.4,717 1316.2,717.7 1321.3,718.3 1325.1,718.8 1329.4,718.9 1331.8,717.7 1335.1,718.7 1338,719.9 1341.3,720.7 1345.9,721.1 1350.2,721.6 1352,723 1356.3,723.9 1359.1,725.2 1363.3,725.8 1367.7,725.8 1371.7,726 1376.2,725.9 1380.7,726.2 1384.9,726.7 1388.7,727.6 1392.6,728.3 1395.3,729.4 1394.8,730.9 1392.9,732.2 1391.2,733.9 1389.9,735.2 1388.1,736.8 1383.2,737.3 1381,738.7 1376.1,739.5 1374.4,740.9 1371.9,742.4 1369.1,743.5 1367.6,745.1 1366.6,746.5 1366.3,748.1 1366.3,749.6 1368.5,751 1369.3,752.4 1371,753.7 1378,754.3 1379.5,755.9 1372.7,756.5 1367,757.3 1359.9,757.4 1356.7,759.5 1356.1,761.3 1352.5,764.1 1357.5,765.4 1359.4,766.9 1362.6,768.3 1367.2,769.6 1372.4,770.7 1378,771.9 1386.6,773.1 1388.5,774.9 1399.3,775.7 1402.8,777.1 1413.2,776.2 1421.8,777.3 1428.2,778.2 1435.7,776.3M70.9,777.1 78.4,778.2 81.9,776.1 88.7,777.2 93.1,775.9 99.5,777.5 104.2,776 116.1,775.1 119.6,776 127.1,777.7 137.7,778.7 146.2,779.8 160.6,780.7 171.4,779.7 187.4,780.4 196.4,781.6 206.3,780.5 216.7,779.5 217.5,777.7 202.8,777.5 190.7,776.7 187.5,775.2 177.4,774.4 178.1,772.7 179.5,771.2 180.9,769.7 180.2,768.2 173.9,767.2 171.1,765.9 165.2,764.7 174.4,764.9 183,764.3 188.5,765.6 195.1,764.5 201.3,763.1 204.3,761.8 203,760.3 198.2,759.2 192.6,758.2 184.9,757.9 178.2,757.4 170.9,757 168.5,755.6 163.6,754.5 160.7,753.2 159.5,748.9 161.3,749.3 164.8,750.4 170.9,750.1 176.9,749.6 179.9,751.2 185.9,750.8 190.9,750 195.6,749 199.8,747.7 205.5,747.4 205.4,746 204,744.5 205.1,743.2 210,742.6 212.2,743.8 217.9,743.1 222.2,742.1 227.6,742.1 232.7,741.7 237.7,740.8 241.8,740 246.3,739.2 249.3,739.4 251.8,739.7 257.4,739.2 262.4,739.9 267.6,739.8 272.5,739.3 277.5,739.6 283.1,740 288.3,739.9 293.8,739.9 299.4,740 304.5,739.9 308.3,738.8 312.9,738.2 317.5,739 322,738.3 326.1,737 328.5,738.2 329.8,739.5 332.2,740.7 336.1,739.6 340.6,741 345.7,741.5 350,742.5 355.3,742.3 360.1,741.6 365.7,741.8 370.8,742.3 375.9,742.9 377.9,741.3 375.5,740.1 373.7,738.8 368.8,738.5 366.7,737 365.9,735.7 364.6,732.9 367.4,733.4 372.3,733.6 377.2,733.4 381.6,734 385.4,735.1 387,736.4 392.1,736.6 397,736.1 402.1,735.4 406.7,734.9 410.5,735.8 415.5,735.5 418.7,732.7 421.8,734.3 426.1,735 430.8,734.6 433.9,736.1 438.8,736.3 443.3,736.7 447.8,737.5 450.8,736.1 452.2,734.8 456,736.3 461.1,735.9 464.9,736.7 467.5,737.9 472.5,737.6 476.4,736.8 480.2,735.8 484.8,735.3 490.1,734.9 494.8,734.3 498.5,733.5 500.7,732.4 501.6,730.7 501.2,729.2 500,727.7 498.7,726.2 497.5,724.8 496.5,723.5 496.3,722 496.7,720.5 498.4,719.1 499.9,717.6 500.5,716.1 499.8,714.5 499.3,713 501.2,711.4 503.2,710.2 505.6,708.8 508.2,707.7 511.2,706.6 512.7,704.9 514.7,703.9 517.1,703 520.7,702.7 523.1,701.6 525.7,700.8 528.8,700.4 531.5,699.4 533.6,698.3 536.6,697.9M496.7,726.7 497.1,728.3 496.4,729.8 495.4,731.2 491,731.7 486.8,732.4 481.9,732.4 483.7,730.9 475.1,731.9 472.3,730.8 472.1,729.3 476.2,727.8 478.7,727.4 483.1,727.5 484.2,725.6 484.4,724.2 484.3,721.2 486.5,719.5 489.9,718.9 491.9,720.2 492.8,721.6 494.4,723.3 495.6,725 496.7,726.7M369.6,730.1 372,729.5 376.8,730 382.2,730.3 386.3,730.8 390.4,730.4 392.6,732.5 389.7,732.2 385.1,732.4 380.5,732.2 375.4,732.4 371.6,731.7 369.6,730.1M584,753.2 588.6,754.9 590.3,757.1 590.7,758.8 590.9,760.7 585,761.8 578.9,762.8 571.9,763.7 564,764.4 555.2,764.2 550.2,762.9 550.9,761.4 558.9,760.4 562.1,759.1 564.5,757.5 566.2,756.1 568.4,754.8 570.9,753.2 572.8,753.2 578.4,752.4 584,753.2"/></defs>
<text class="tt" x="743.95" y="107.00">Combined (GIM), 2017-04-28 06:00 UT</text>
<svg x="78.40" y="132.50" width="1331.10" height="655.90" viewBox="78.40 132.50 1331.10 655.90" overflow="hidden">
<rect x="78.4" y="132.5" width="1331.1" height="655.9" fill="#00009b"/>
<path fill="#0000d6" fill-rule="evenodd" d="M74.4,128.5 1412.4,128.5 1412.4,790.5 1019,790.5 1018.3,788.5 1016.4,786.1 1002.4,778.1 998.5,774.5 996.4,771.1 995.5,768.5 995.6,764.5 996.4,762.4 1000.4,757.6 1002.2,754.5 1002.6,750.5 1001.5,746.5 999,742.5 996.4,740.1 992.4,737.9 982.4,735.1 968.4,733.1 946.4,731.4 918.4,730.1 888.4,729.7 818.4,731.8 810.4,731.2 808.4,730.4 806.2,728.5 805.3,726.5 805.2,722.5 806.4,719.1 808.4,715.8 819,704.5 821.2,700.5 821.5,698.5 820.5,694.5 817.4,690.5 812.4,686.7 808.3,684.5 798.2,680.5 785.4,676.5 768.4,672.9 748.4,671 742.4,671.8 736.4,673.8 697.2,690.5 685.2,696.5 677.5,702.5 673.7,708.5 673.1,712.5 675.5,722.5 674.4,726.4 672.5,728.5 668.4,731.1 662.4,733.3 638.4,738.9 614.4,742.2 572.4,745.9 420.4,756.7 340.4,761.1 290.4,765.8 230.4,773.3 204.4,777.6 184.4,781.9 176.4,782.5 172.4,784.5 170.4,787.1 169.5,790.5 74.4,790.5ZM488.4,262.4 459.5,266.5 444.2,270.5 440.3,272.5 442.8,274.5 458.6,278.5 472.4,279.2 488.7,278.5 509,276.5 546.4,270.3 551.4,268.5 553.1,266.5 553.3,264.5 552.4,262.3 550.4,261 548.4,260.7 538.4,262.3 504.4,261.3Z"/>
<path fill="#0000ff" fill-rule="evenodd" d="M74.4,128.5 1412.4,128.5 1412.4,690 1408.4,691 1394.9,696.5 1385.7,700.5 1382.6,702.5 1382.6,704.5 1388.4,716.6 1391.3,724.5 1394.4,738.5 1395.1,748.5 1394.8,768.5 1392.9,790.5 1067.8,790.5 1065.5,778.5 1065.2,772.5 1066.4,766.1 1069.7,760.5 1072.4,758.1 1076.4,755.9 1082.4,754 1098.4,750.4 1104.4,747.9 1110,744.5 1114.5,740.5 1120.4,733.3 1128.4,720.5 1129.9,716.5 1128.4,715.4 1126.4,714.9 1116.4,714.2 1088.4,715.4 1063,718.5 1032.4,725.2 1026.4,725.5 1022.4,725 1018.4,723.6 1014.4,720.9 1007.3,712.5 1002.6,708.5 996.4,705.1 990.4,702.9 978.4,700.2 966.4,699 956.4,699.5 936.4,702.4 930.4,702.2 924.4,701.2 912.4,696.3 859.9,668.5 844.4,661.6 828.4,655.4 808.4,649 788.4,644 774.4,641.4 748.4,637.9 744.4,637.9 738.4,638.9 714,646.5 685.1,654.5 668.3,658.5 646.4,662.9 616.4,667.8 588.4,671.7 560.4,674.7 530.4,677.1 498.4,678.8 466.4,679.5 434.4,679.1 402.4,677.6 262.4,667 232.4,663.4 182.4,655.7 170.4,654.5 160.4,654.2 144.4,655.6 130.4,659.1 121.6,662.5 84.4,679.4 78.4,681.8 74.4,682.8ZM562.4,190.4 546.4,192.9 532.4,197 520.4,202.8 500.4,216.9 486.4,224.5 472.4,229.3 456.4,232.1 442.4,232.5 426.4,230.6 408.4,227 374.8,218.5 356.4,214.5 332.4,210.5 298.4,206.5 272.4,206.8 258.5,208.5 242.4,212.7 239.5,214.5 238.2,216.5 237.9,218.5 238.8,222.5 241.7,228.5 244.4,232.7 248.4,237.3 254.3,242.5 280.4,262.5 298.4,275.6 310.4,283.3 324.4,290.1 340.4,296 360.4,301.7 382.4,305.8 394.4,306.7 430.4,307.9 468.4,311 484.4,311.6 498.4,311.5 548.4,307.8 570.4,307.2 594.6,308.5 616.4,311.9 626.8,314.5 636.4,317.9 641.2,320.5 644.4,323.8 645.6,326.5 646.5,330.5 646.9,346.5 647.8,352.5 650.5,358.5 656.4,364.8 664.4,369.6 670.4,371.8 676.4,373.3 680.4,373.5 684.4,373 690.4,370.4 694.3,366.5 696.6,362.5 697.8,358.5 698.2,352.5 697.6,348.5 695.8,342.5 689,328.5 686.7,322.5 685.4,316.5 685.2,310.5 686.9,302.5 696.4,274.5 698,266.5 698.4,258.5 697.4,250.5 695.2,242.5 691.6,234.5 686.6,226.5 678.1,216.5 666.6,206.5 654.4,199.4 640.4,194 624.4,190.5 606.4,188.9 584.4,188.8ZM732.4,580.3 726.4,581.8 718.4,586.5 714.7,590.5 713.8,592.5 713.9,596.5 714.7,598.5 717.5,602.5 721.6,606.5 726.4,609.9 730.4,611.8 734.4,612.9 740.4,612.9 744.4,611.4 746.4,610.1 750.4,605.3 751.6,602.5 752.4,598.5 751.8,592.5 748.7,586.5 744.4,582.8 738.4,580.6ZM1334.4,688.3 1294.4,695.5 1254.4,699.7 1240.4,701.8 1203.1,710.5 1197,712.5 1196.7,714.5 1206.8,716.5 1226.6,718.5 1242.4,719.5 1254.4,719.3 1268.4,720.8 1292.4,720.6 1314.4,719.7 1330.4,717.9 1345.8,714.5 1363.7,708.5 1377.7,702.5 1378,700.5 1376.8,698.5 1372.7,694.5 1366.5,690.5 1361.4,688.5 1356.4,687.4 1350.4,686.8 1344.4,687Z"/>
<path fill="#0030ff" fill-rule="evenodd" d="M74.4,128.5 1164.3,128.5 1166,132.5 1170.7,138.5 1174.4,141.1 1178.4,142.1 1190.4,141.3 1196.4,141.6 1208.6,144.5 1231.4,148.5 1263.5,152.5 1358.4,158.9 1376.4,161.8 1412.4,163.2 1412.4,632.1 1408.4,633 1404.4,634.7 1350.4,661.5 1334.4,667.5 1314.4,673 1286.4,679 1258.4,683.8 1216.4,689.8 1146.4,698.3 1138.4,699.7 1110.4,702.3 1094.4,703 1080.4,702.7 1066.4,701.5 1012.4,691.2 992.4,685.9 976.5,680.5 958,672.5 943,664.5 932.4,657.6 915.1,644.5 905,638.5 891.8,632.5 856.9,618.5 844.7,612.5 836.4,607.5 827.6,600.5 805,576.5 788.4,562.2 782.5,556.5 776.5,548.5 772.7,540.5 769.7,528.5 766.8,506.5 765.3,498.5 762.1,488.5 755.2,474.5 752.2,466.5 749.8,456.5 744.7,428.5 741.7,408.5 739.9,390.5 739.3,368.5 739.6,346.5 740.9,326.5 743.6,308.5 747.3,294.5 752.4,282 758.4,272.7 764.4,265.9 787.1,246.5 795.4,238.5 800.4,231.9 803.5,224.5 804.3,220.5 804.2,214.5 802.9,208.5 800.6,202.5 797.3,196.5 794.3,192.5 790.4,188.5 785,184.5 778.4,181.1 770.4,178.3 760.4,176 748.4,174.2 666.4,167 638.4,165.3 610.4,164.3 582.4,164.8 552.4,167.2 524.4,171.1 482.4,179.4 468.4,181 448.4,182.2 408.4,183.3 368.4,183 322.4,181.7 282.4,179.2 240,174.5 198.4,168.8 74.4,147.2ZM1192.6,128.5 1412.4,128.5 1412.4,144.8 1398.4,144 1376.4,141.8 1360.4,142.4 1332.4,140.8 1290.4,139.3 1248.4,138.5 1212.4,138.8 1200.4,138.1 1196.4,136.5 1194.5,134.5 1193.4,132.5ZM74.4,628.2 74.4,165.5 76.4,165.6 90.4,167.8 100.4,169.7 114.4,173.6 126.4,178 138.4,183.4 150.4,189.7 158.4,194.9 170.4,205.5 198.8,236.5 222.4,256.5 238.4,271.9 252.4,288 259,296.5 266.4,307.6 270.4,312.2 278.1,318.5 286.4,323.2 296.4,327.4 308.4,331.5 320.4,334.8 330.4,336.7 350.4,338.8 394.4,339.9 402.4,340.9 410.4,342.6 421.1,346.5 440.4,356.2 451,360.5 460.4,363.3 486.4,369.2 503.7,374.5 520.6,380.5 543.5,390.5 558.4,399.2 564.8,404.5 569.2,410.5 570.4,414.4 570.5,416.5 569.4,420.5 566.4,424.9 562.4,428.7 540.4,445.5 538.4,447.9 537.2,450.5 537.3,454.5 539.4,458.5 542.4,461.4 547.1,464.5 560,470.5 566.2,474.5 574.4,481.3 580.5,488.5 584.4,496.5 585.8,504.5 584.8,512.5 583.2,516.5 580.4,521.3 574.3,528.5 567.7,534.5 558.4,541.3 546.1,548.5 534.4,554.1 520.4,559.7 504.4,565.3 490.4,569.2 470.4,572.8 444.4,575.5 430.4,575.6 396.4,572.8 382.4,572.5 366.4,573.6 354.5,576.5 346.9,580.5 344.7,582.5 341.9,586.5 340.3,592.5 339.1,606.5 337.9,610.5 335.6,614.5 330.4,619.3 326.4,621.4 322.4,622.6 308.9,624.5 290.4,625.4 246.4,626.3 224.4,626 204.4,624.7 188.4,623 144.4,615.9 128.4,615.2 116.4,616.2 102.4,618.9 92.4,621.9 80.4,626.8ZM1214,744.5 1248.4,739.5 1256.4,739.6 1290.8,744.5 1299.4,746.5 1304.6,748.5 1306.9,750.5 1307.7,752.5 1306.4,755.3 1302.4,757.3 1280.8,760.5 1264.4,762.1 1252.4,762.5 1240.4,762.1 1220.4,760.1 1198.4,756.6 1194.4,757.5 1186.4,764.3 1180.4,766.7 1176.4,766.6 1174.4,765.9 1172.4,764.5 1171.3,762.5 1171,760.5 1172.4,757.6 1174.4,755.9 1178.4,754 1184.4,752.7 1194.4,751.6 1206.5,746.5Z"/>
<path fill="#0064ff" fill-rule="evenodd" d="M506.4,129.1 494.4,128.5 518.2,128.5ZM1156.9,174.5 1190.4,173.5 1228.4,173.5 1258.4,174.3 1282.4,176.1 1303.9,178.5 1331,182.5 1402.4,194.5 1412.4,197 1412.4,226.9 1404.4,227.1 1386.4,229.3 1348.4,236.5 1343.6,238.5 1341.7,240.5 1341,242.5 1341.3,244.5 1342.3,246.5 1344.5,248.5 1352.9,252.5 1359.1,254.5 1368.4,256.9 1382.4,259.4 1402.4,262.5 1412.4,263 1412.4,571.7 1408.4,573 1402.5,576.5 1352.6,610.5 1347.7,614.5 1345,618.5 1344.2,622.5 1344.8,626.5 1348.4,638.5 1348.3,642.5 1347.6,644.5 1344.6,648.5 1342.1,650.5 1338.4,652.7 1332.4,655.3 1313.2,660.5 1253.5,672.5 1182.4,686.3 1166.4,689.2 1160.4,689.8 1152.4,691.6 1144.4,692.2 1138.4,693.7 1130.4,693.9 1124.4,695.3 1116.4,695.1 1110.4,696.3 1102.4,695.8 1096.4,696.6 1088.4,695.7 1080.4,696 1074.4,694.8 1066.4,694.1 1052.4,691.1 1015.1,680.5 1003.7,676.5 992.4,670.9 984.4,664.5 981.2,660.5 979.3,656.5 978,650.5 978.9,636.5 977.4,632.5 975.6,630.5 972.4,628.6 968.4,627.5 938.4,623.9 918.4,620.2 904.4,615.9 892.7,610.5 886.6,606.5 879.6,600.5 858.4,576.1 852.4,570.7 838.4,559.7 829.1,550.5 823,542.5 818.4,534.4 814.3,524.5 805.4,498.5 799.6,486.5 785.7,460.5 782.1,452.5 778.6,442.5 776.4,433.8 774.9,424.5 771.5,386.5 770.9,372.5 772,360.5 774.4,352.1 778.4,344.2 784.4,336.3 792.5,328.5 808.4,316.7 868.2,278.5 881.8,268.5 893.3,258.5 900.6,250.5 906,242.5 909.8,234.5 914.9,220.5 918.2,214.5 922.4,210.1 928.4,206.2 934.4,203.8 944.4,201.3 974.4,196.2 1016.4,186.9 1040.4,182.7 1056.4,180.9 1092.4,178ZM1108.4,233.2 1101.9,234.5 1102.4,235.1 1104.4,236.2 1113.9,234.5ZM1124.4,228.4 1116.6,232.5 1114.6,234.5 1116.4,234.8 1122.1,238.5 1128.4,241.2 1130.4,241.4 1134.4,240.6 1144.4,235.3 1146.4,235 1156.4,236.4 1158.4,236.1 1161.3,234.5 1156.4,232.4 1144.4,232.2 1136.7,228.5 1132.4,227.4 1128.4,227.4ZM74.4,235.9 74.4,215 82.4,215.5 86.4,216.3 91.3,218.5 94.1,220.5 97.6,224.5 98.5,228.5 98,230.5 96.6,232.5 94,234.5 86.4,237.7 82.4,237.8ZM84.4,253.6 108.4,249.3 114.4,249.3 120.4,250.6 126.4,252.9 134.4,257.1 144.4,263.7 164.4,279.4 189.3,302.5 194.8,308.5 199.1,314.5 203,322.5 204.8,328.5 205.6,334.5 206.1,350.5 207.6,354.5 209.2,356.5 213.8,360.5 222.7,366.5 234.1,372.5 251.8,380.5 287.6,394.5 318.4,404.6 332.4,408 344.4,410.1 398.4,417.6 408.4,417.8 417.1,416.5 422.2,414.5 436.4,406.2 444.4,403.5 448.4,402.7 452.4,402.7 458.1,404.5 459.9,406.5 460.1,408.5 458.7,410.5 446.4,415.1 442.4,418.4 441,420.5 440.2,422.5 439.8,426.5 441.2,432.5 452.4,451.1 454.9,454.5 458.4,457.9 466.4,462.5 480.4,468 488.4,471.8 496.4,477 502.2,482.5 505.9,488.5 507.4,494.5 507,500.5 504.3,506.5 500.4,511.1 494.4,516.1 487.1,520.5 478.9,524.5 468.4,528.6 454.4,533.2 442.4,536.1 430.4,538.2 418.4,539.3 406.4,539.6 340.4,537.3 304.4,537.2 231.1,540.5 178.4,543.5 148.7,546.5 124.5,550.5 99.2,556.5 74.4,564.1 74.4,256.6Z"/>
<path fill="#0098ff" fill-rule="evenodd" d="M1074.1,262.5 1206.4,261.7 1238.4,260.7 1266.4,261 1290.4,261.9 1304.4,263.1 1318.4,265.1 1372.4,276 1412.4,282.7 1412.4,545.4 1380.4,550.4 1372.1,552.5 1364.4,555.3 1355.5,560.5 1344.4,571 1338.4,575.5 1314.4,590.7 1304.4,595.6 1292.4,599.5 1262.4,607 1248.4,609.6 1230.4,611.7 1206.4,612.8 1192.4,612.3 1182.4,611.3 1172.4,609.3 1154.4,602.4 1144.4,599.3 1132.4,597.1 1122.4,596.3 1110.4,597.2 1086.4,603.6 1076.4,605.2 1048.4,603.9 1020.4,606.7 1006.4,607.3 966.4,605.5 950.4,603.7 936.4,600.3 924.4,595.1 915.2,588.5 904.4,578.5 870.4,544.3 858.4,530.6 854.2,524.5 849.8,516.5 840.4,492.9 836.3,484.5 832.4,478.5 820.7,464.5 816.3,456.5 814.5,450.5 813.6,442.5 813.5,432.5 814.5,424.5 825.7,382.5 831.7,366.5 836.2,358.5 841.1,352.5 847.2,346.5 854.7,340.5 914.4,299.2 934.4,287.2 950.4,278.7 960.4,275.1 972.4,271.9 1000.4,267 1034.4,263.7ZM74.4,541 74.4,286.1 76.4,286.3 102.6,288.5 118.4,291 126.4,293.5 134.4,296.9 142.4,301 150.4,306.2 158.4,313.4 162.3,318.5 164.4,322.5 166.8,330.5 169.4,348.5 172.5,356.5 177.3,362.5 182.4,366.5 189,370.5 202,376.5 224.4,384.8 294.4,406.1 331.5,418.5 364.4,432.8 389.5,442.5 408.4,451.9 418.4,458.5 425.8,464.5 431.9,470.5 438.1,478.5 441.7,484.5 443.9,490.5 444.1,496.5 442.4,501.1 438.1,506.5 434.4,509.4 428.8,512.5 418.4,516.1 408.4,517.8 382.4,519.2 288.4,522.1 234.4,525.1 162.4,531.1ZM1088.4,611.3 1120.4,609.9 1146.4,610.8 1160.4,612 1176.4,615.2 1188.4,619.8 1200.4,625.4 1212.4,631.7 1223.5,638.5 1228.6,642.5 1231.7,646.5 1232.3,648.5 1231.7,652.5 1229.1,656.5 1225,660.5 1219.5,664.5 1212.7,668.5 1199,674.5 1182.4,679.5 1166.4,683.1 1158.4,684.1 1152.4,685.5 1144.4,685.8 1138.4,687.1 1130.4,687 1122.4,688.3 1116.4,687.8 1110.4,688.8 1102.4,688.3 1096.4,689.3 1088.4,688.7 1082.4,689.4 1068.4,688.1 1054.4,684.9 1042.9,680.5 1034.8,676.5 1026.4,670.5 1016.7,660.5 1013.7,656.5 1012.7,652.5 1013.3,650.5 1016.2,646.5 1030.4,633.7 1042.4,625.9 1056.4,619.6 1074.4,613.8Z"/>
<path fill="#00ccff" fill-rule="evenodd" d="M1052.4,284.9 1130.4,284.2 1162.4,284.8 1192.4,284 1220.4,284.9 1250.4,284.5 1310.4,287 1330.4,288.7 1350.4,291.5 1412.4,304.2 1412.4,534.1 1368.4,538.3 1348.4,538.8 1290.4,536 1250.4,534.6 1216.4,532.1 1206.4,531.9 1174.4,534 1112.4,536.3 1102.4,537.3 1095.5,538.5 1089.5,540.5 1085.6,542.5 1083.2,544.5 1081.6,548.5 1081.1,558.5 1079.5,564.5 1077.2,568.5 1072.4,573 1064.4,576.3 1042.4,581.8 1032.4,583.7 1020.4,584.8 1008.4,584.8 996.4,583.7 982.4,581.2 970.4,577.8 960.4,574 950.4,569.1 940.4,562.7 932.4,556.5 892.4,520 881.3,508.5 875.2,500.5 858.4,473.1 846.9,458.5 844.4,453.4 843.1,446.5 842.9,438.5 843.6,430.5 845.2,424.5 848.8,416.5 856.4,404.4 864.8,384.5 871.6,372.5 878.4,363.6 886.4,355.6 896.4,347.7 910.4,338.2 930.4,325.7 960.6,308.5 978.4,299.1 992.4,293.2 1001.1,290.5 1010.4,288.3 1030.4,285.8ZM74.4,529.9 74.4,316 78.4,317.7 99.8,330.5 122.8,346.5 130.4,352.6 140.9,358.5 154.4,364.4 180.4,377.3 194.4,383.4 275.1,414.5 292.4,422.5 303.6,428.5 318.4,438 356.4,467 378.4,482 382,486.5 382.5,488.5 382.2,490.5 381.1,492.5 378.7,494.5 374.4,496.5 366.7,498.5 353.1,500.5 317.2,504.5 184.4,517.5ZM1229,550.5 1238.4,549.7 1246.4,550 1252.4,550.9 1258.4,553.1 1263.3,556.5 1266.1,560.5 1266.9,564.5 1265.8,568.5 1262.1,572.5 1254.4,576.2 1244.4,578.5 1234.4,579.4 1224.4,579.2 1216.4,578.2 1200.4,573.3 1195.4,570.5 1194.4,568.5 1194.8,566.5 1196.4,564.4 1202.1,560.5 1214.4,554.4 1222.4,551.9ZM1090.8,632.5 1106.4,630.8 1122.4,630.8 1138.4,632.6 1152.4,635.6 1165.3,640.5 1174.9,646.5 1180,652.5 1181.6,656.5 1181.6,658.5 1180.7,660.5 1178.7,662.5 1172.2,666.5 1163.9,670.5 1154.4,673.8 1136.4,677.4 1122.4,678.8 1110.4,679.1 1098.4,678.8 1086.4,677.8 1070.4,674.5 1057.8,668.5 1047.5,660.5 1045.7,658.5 1045.1,656.5 1045.4,654.5 1046.7,652.5 1051.3,648.5 1059.9,642.5 1066.4,639.2 1072.4,636.8 1080.4,634.6Z"/>
<path fill="#16ffe1" fill-rule="evenodd" d="M1029.8,310.5 1038.4,310.6 1048.4,311.5 1079.6,316.5 1096.2,318.5 1156.4,323.6 1208.4,326.8 1240.4,327.9 1258.4,327.8 1270.4,326.9 1284.2,324.5 1316.4,317.3 1332.4,315.4 1346.4,315.3 1358.4,316.6 1374.4,320.2 1396.4,327.2 1412.4,333.4 1412.4,514.9 1402.4,513.3 1384.4,515 1346.4,516.8 1276.4,517 1246.4,517.9 1218.4,519.7 1190.4,525.2 1150.4,528.4 1108.4,528.9 1054.4,526.5 1038.4,526.5 1032.4,527.7 1026.6,530.5 1022.4,534.5 1021.8,536.5 1022,538.5 1023.3,540.5 1031,546.5 1032.8,548.5 1035,552.5 1035.7,556.5 1035.3,558.5 1034.4,560.5 1032.4,562.6 1028.7,564.5 1024.4,565.2 1013.4,564.5 1000.4,561.6 988.5,556.5 978.4,550 956.4,532.5 932.4,519.1 918.4,510 908.8,502.5 900.4,494.4 893.6,486.5 886.4,476.7 876.9,462.5 871,452.5 868.4,446.5 866.8,440.5 866.1,432.5 866.6,426.5 868.3,420.5 872.4,411.7 878.2,402.5 884.4,394.6 898.4,380.3 907.7,372.5 918.4,364.4 932.4,355.2 959.4,340.5 982.4,325.8 992.4,320.4 1001.2,316.5 1010.4,313.5 1020.4,311.3ZM74.4,344.5 78.4,345.9 112.4,364.8 164.4,392.2 262.4,441.3 287.6,454.5 297,460.5 304.1,466.5 306.4,469.6 307.6,472.5 307.7,474.5 307,476.5 305.5,478.5 302.7,480.5 292.7,484.5 276.5,488.5 250.4,493.7 206.4,501.2 166.4,507.3 84.4,517.9 74.4,518.4ZM1097.9,646.5 1104.4,645.5 1112.4,645.1 1118.4,645.3 1126.4,646.5 1135.3,648.5 1142.4,650.8 1146.4,653.5 1147.1,654.5 1147.4,656.5 1146.5,658.5 1144.3,660.5 1135.4,664.5 1122.4,667.9 1112.4,668.9 1100.4,667.9 1087.6,664.5 1078.6,660.5 1076.1,658.5 1075,656.5 1075.3,654.5 1078.4,652.1 1082.5,650.5Z"/>
<path fill="#3cffba" fill-rule="evenodd" d="M1041.7,330.5 1066.4,330.3 1164.4,332 1266.4,336.4 1284.4,335.8 1330.4,332.7 1350.4,332.5 1364.4,333.9 1378.4,336.7 1412.4,347.5 1412.4,503.2 1402.4,502 1362.4,505.9 1332.4,507.3 1266.4,507.5 1234.4,508.4 1218.4,510.4 1212.4,512.5 1200.4,518.1 1188.4,521 1154.4,524.2 1140.4,524.2 1124.4,525 1098.4,524 1080.4,522.2 1064.4,519.5 1042.4,514.4 1032.4,513.1 1026.4,513.1 1022.4,513.8 1002.4,519.1 992.4,519 980.4,516.8 970.4,514 960.4,510.3 950.4,505.5 934.4,495.8 920.4,484.6 908.4,472.5 894.1,454.5 889.5,446.5 887.2,438.5 886.8,432.5 887.3,428.5 889.9,420.5 895.1,412.5 902.4,404.7 926.4,384.7 942.4,373.4 978.4,351.8 996.4,342.1 1012.4,335.3 1026.4,331.7ZM74.4,509.8 74.4,355.8 80.4,357.7 102.4,367.6 129.2,380.5 167.9,402.5 193.5,418.5 221.6,438.5 231.7,446.5 240.7,454.5 244.3,458.5 246.3,462.5 246.6,466.5 245,470.5 242.4,473.3 237.8,476.5 224.8,482.5 208.4,488 188.4,493 166.4,497.7 140.4,502 84.4,509.6Z"/>
<path fill="#66ff90" fill-rule="evenodd" d="M1092.9,338.5 1170.4,338 1284.4,343.2 1328.4,342.3 1346.4,342.6 1360.4,344 1376.4,346.8 1412.4,356.1 1412.4,495.9 1402.4,495.1 1364.4,498.9 1334.4,500.5 1260.4,500.6 1232.4,501.4 1222.4,502.5 1216.4,504.1 1198.4,513.9 1192.4,515.8 1184.4,517.4 1152.4,520.6 1124.4,521.3 1098.4,519.9 1076.4,516.7 1050.4,510.2 1018.4,499.8 998.4,490.2 992.4,488 984.4,486.9 970.4,488.4 964.4,488.4 958.4,487.4 954.4,486.1 942.4,479.6 930.3,470.5 920,460.5 911.1,448.5 908,442.5 906.7,438.5 906,430.5 906.7,426.5 908.3,422.5 913.7,414.5 922.2,406.5 934.4,397.2 960.4,379.8 982.4,363.9 994.4,356.1 1012.4,346.7 1020.4,343.7 1028.4,341.7 1036.4,340.7 1050.4,339.9ZM74.4,502.4 74.4,363.1 82.4,365.7 100.4,373.4 122.8,384.5 149.4,400.5 178.4,420.1 201.7,438.5 210.4,446.5 215.9,452.5 220.3,458.5 221.6,462.5 220.8,466.5 219.5,468.5 212.4,473.9 202.7,478.5 186.4,484.1 166.4,489.4 144.4,493.9 118.4,498 84.4,502.5Z"/>
<path fill="#90ff66" fill-rule="evenodd" d="M1099.1,344.5 1158.4,343.2 1182.4,343.4 1254.4,346.8 1290.4,349.6 1342.4,350.5 1354.4,351.6 1370.4,354.1 1412.4,363 1412.4,489.5 1402.4,488.9 1364.4,492.7 1336.4,494.2 1260.4,494.2 1232.4,495 1222.4,496.3 1216.4,498 1212.4,499.9 1198.4,508.9 1192.4,511.1 1184.4,512.9 1168.4,515 1150.4,516.6 1126.4,517.3 1104.4,516.2 1090.4,514.5 1079.6,512.5 1066.4,509.3 1052.4,505.2 1034.4,498.6 1020.4,492.6 996.4,479.7 988.4,476 982.4,474.2 966.4,471.1 958.4,468.5 950.4,464.4 941.9,458.5 934.4,451.5 928.9,444.5 926.8,440.5 925.5,436.5 925.1,430.5 926.8,424.5 930.9,418.5 939.8,410.5 962.4,393.8 988.4,371.7 1000.4,362.9 1008.4,357.9 1020.4,352.1 1028.4,349.6 1034.4,348.5 1064.4,345.9ZM74.4,495.3 74.4,369.1 80.4,370.8 96.4,377.8 109.1,384.5 135.3,400.5 163.9,420.5 183.9,436.5 195.8,448.5 198.6,452.5 200.6,456.5 201.1,460.5 199.7,464.5 198.2,466.5 194.4,469.5 184.5,474.5 172.4,478.8 154.4,483.7 136.4,487.7 114.4,491.3 84.4,495.4Z"/>
<path fill="#baff3c" fill-rule="evenodd" d="M1090.4,350.3 1174.4,348.1 1198.4,348.7 1256.4,351.8 1292.4,355.3 1342.4,357.3 1372.4,361.3 1412.4,368.9 1412.4,483 1402.4,482.5 1364.4,486.3 1338.4,487.6 1316.4,487.9 1262.4,487.3 1232.4,488.3 1222.4,489.7 1216.4,491.5 1212.4,493.7 1198.4,503.6 1192.4,506 1184.4,508 1168.4,510.3 1150.4,512.1 1126.4,512.7 1106.4,511.7 1090.4,509.6 1072.4,505.5 1056.1,500.5 1035.9,492.5 1023.3,486.5 1012.4,480.5 988.4,464.9 962.4,454.2 955.5,448.5 950.2,440.5 948.3,434.5 948.1,428.5 949.8,422.5 953.7,416.5 982.7,388.5 993.9,378.5 1009.1,366.5 1020.4,359.7 1026.4,357.2 1034.4,355 1056.4,352.3ZM74.4,488.1 74.4,375.1 78.4,376.2 91.9,382.5 102.1,388.5 128.3,406.5 153.8,426.5 167.4,438.5 173,444.5 175.9,448.5 178,454.5 177.2,458.5 176,460.5 171.6,464.5 164.3,468.5 149.3,474.5 136.3,478.5 118.3,482.5 84.4,488Z"/>
<path fill="#e4ff13" fill-rule="evenodd" d="M1070.4,356.5 1156.4,353 1180.4,352.8 1252.4,356.3 1292.4,360.3 1326.4,362 1348.4,363.8 1374.4,367.6 1412.4,374.6 1412.4,475.7 1402.4,475.5 1364.4,479.2 1340.4,480.3 1318.4,480.5 1268.4,479.2 1244.4,479.5 1232.4,480.4 1222.4,482.1 1216.4,484.3 1212.4,486.8 1200.4,496.7 1194.4,499.9 1188.4,501.9 1170.4,505.1 1154.4,507 1140.4,507.7 1126.4,507.7 1108.5,506.5 1094.6,504.5 1077.3,500.5 1064.4,496.4 1045.3,488.5 1030,480.5 1017.5,472.5 1008.1,464.5 999.6,454.5 994.3,444.5 991.8,434.5 991.3,428.5 991.5,422.5 993.3,412.5 997.8,400.5 1005.1,388.5 1013.5,376.5 1017,372.5 1021.6,368.5 1028,364.5 1034.4,362 1044.4,359.6 1056.4,357.8ZM74.4,479.3 74.4,383.9 76.4,384.6 84.4,389.9 94.4,395.4 106.4,403.9 119.4,416.5 129.7,428.5 137.6,440.5 139.5,444.5 140.6,448.5 140.5,452.5 139.7,454.5 136.8,458.5 134.5,460.5 124.1,466.5 112.4,470.9 84.4,478.6Z"/>
<path fill="#ffde00" fill-rule="evenodd" d="M1088.4,360.8 1162.4,357.5 1182.4,357.5 1260.4,361.9 1290.4,365 1328.4,367.5 1348.4,369.4 1400.4,377.7 1412.4,380.4 1412.4,467.6 1402.4,467.5 1364.4,471.1 1344.4,472 1320.4,471.7 1290.4,470 1270.4,469.4 1252.4,469.6 1236.4,470.7 1224.4,472.9 1216.4,476.2 1212.4,479.1 1200.4,490.7 1196.4,493.4 1190.4,495.9 1182.4,498 1166.4,500.7 1152.4,502.1 1136.4,502.6 1120.4,501.7 1106.4,499.8 1092.4,496.7 1079.6,492.5 1064.4,486 1050.3,478.5 1038.2,470.5 1029,462.5 1022.4,454.5 1020.1,450.5 1017.7,444.5 1016,434.5 1016.3,420.5 1018.6,408.5 1022.4,398.7 1030.5,384.5 1038.2,374.5 1043.1,370.5 1050.4,366.8 1057.5,364.5 1064.4,363.1ZM74.4,469.8 74.4,395.9 76.4,396.7 82.4,400.3 92.4,404.5 98.4,408.2 102.4,411.4 108.1,418.5 111.5,424.5 113.6,430.5 114.4,436.5 113.8,442.5 112.4,446.6 108.8,452.5 104.4,456.9 96.6,462.5 88.4,466.7 80.4,469.3Z"/>
<path fill="#ffae00" fill-rule="evenodd" d="M1150.9,362.5 1176.4,362.3 1200.4,363.2 1256.4,366.9 1328.4,372.9 1358.8,376.5 1400.4,383.4 1412.4,386.8 1412.4,458.4 1402.4,458.6 1362.4,462.6 1334.4,463.4 1316.4,462.9 1262.4,459 1246.4,458.6 1232.4,459.2 1222.4,461.6 1216.4,465.1 1210.4,470.8 1200.4,483.3 1196.4,486.8 1192.4,489.1 1182.4,492 1168.4,494.2 1154.4,495.7 1142.4,496.2 1128.4,495.7 1116.4,494.3 1104.4,491.7 1094.4,488.5 1081,482.5 1066.7,474.5 1057.7,468.5 1050.7,462.5 1045.8,456.5 1042.8,450.5 1041.5,444.5 1041.6,438.5 1044.9,414.5 1048.6,400.5 1050.8,388.5 1052.9,382.5 1057.1,376.5 1062.4,372.7 1067.8,370.5 1075.8,368.5 1084.4,367.1 1114.4,364.2ZM1078.4,422.5 1074.5,424.5 1072.8,426.5 1073.4,428.5 1078.5,432.5 1082.9,434.5 1088.4,435.4 1099.1,434.5 1104.1,432.5 1105.5,430.5 1105.9,428.5 1104.4,425.4 1102.4,424 1098.4,422.6 1090.4,420.9 1086.4,420.6ZM74.4,459 74.4,408 76.4,408.6 86.4,413 92.4,416.6 94.4,418.8 96.5,422.5 97.9,426.5 98.7,432.5 98.1,438.5 96.7,442.5 94.4,446.5 91.1,450.5 86.5,454.5 82.4,456.9 78.4,458.4Z"/>
<path fill="#ff7e00" fill-rule="evenodd" d="M1136.6,368.5 1162.4,367.7 1186.4,368 1290.4,375.3 1340.4,380.6 1402.4,391.1 1406.4,392.9 1412.4,397.5 1412.4,446.6 1404.4,447.5 1384.4,451.4 1366.4,453.4 1328.4,455.4 1312.4,454.9 1278.4,450.8 1248.4,445.8 1232.4,441.7 1220.4,437.5 1213.7,434.5 1198.4,431 1184.4,430 1167.6,430.5 1158,432.5 1154.9,434.5 1154.7,436.5 1156.8,438.5 1162.2,440.5 1174.4,443.5 1178.4,445 1182.4,447.3 1186.4,450.6 1189.1,454.5 1190.3,458.5 1189.8,470.5 1188.4,473.5 1186.4,474.8 1176.4,476.7 1158.4,483.9 1144.4,487.1 1136.4,487.7 1128.4,487.5 1111.8,484.5 1100.7,480.5 1090.7,474.5 1084.3,468.5 1082.4,464.5 1082.3,462.5 1083,460.5 1086.4,457.6 1112.4,449.5 1118.4,446.6 1120.8,444.5 1122.3,442.5 1123.4,438.5 1122.8,430.5 1121.7,424.5 1118.7,418.5 1116.4,415.9 1112.4,412.7 1106.4,409.7 1088.6,402.5 1082.3,398.5 1080.4,396.5 1078.2,392.5 1077.5,388.5 1077.7,386.5 1079.4,382.5 1081.2,380.5 1087.5,376.5 1092.6,374.5 1100.4,372.4 1111.3,370.5ZM74.4,443.1 74.4,422.5 78.4,424.5 81.8,428.5 82.9,432.5 82.3,436.5 80.4,439.6 78.4,441.4Z"/>
<path fill="#ff4e00" fill-rule="evenodd" d="M1175.3,374.5 1212.4,376 1282.4,381 1300.4,382.9 1319.7,386.5 1337.4,390.5 1351.6,394.5 1388.4,410.1 1392.4,412.5 1396.4,416.5 1398.4,420.5 1398.4,423.5 1396.6,426.5 1393.3,428.5 1380.4,432.5 1352.4,438.3 1328.4,441.8 1308.4,442.3 1268.4,440.1 1252.4,438.5 1234.4,434.8 1224.4,431.6 1214.4,427.4 1161.1,412.5 1141.9,406.5 1131.9,402.5 1115.4,394.5 1110.4,391 1108.8,388.5 1108.8,386.5 1110.4,384.2 1114.4,381.8 1120.4,379.9 1128.5,378.5 1146.4,376.5ZM1134.1,458.5 1138.4,457.8 1144.4,457.8 1148.4,458.5 1154.4,460.4 1157.7,462.5 1159.2,464.5 1159.6,466.5 1159.2,468.5 1156.5,472.5 1152.4,475.5 1146.4,477.7 1138.4,478.9 1132.4,478.5 1125.2,476.5 1120.6,474.5 1117.6,472.5 1115.9,470.5 1115.5,468.5 1116.4,466.8 1119.2,464.5 1127.9,460.5Z"/>
<path fill="#ff1e00" fill-rule="evenodd" d="M1181.3,384.5 1212.4,383.6 1228.4,383.9 1244.4,385.1 1280.4,389.4 1294.4,391.6 1313.2,396.5 1327.7,402.5 1330.9,404.5 1335,408.5 1336.4,412.5 1336,414.5 1334.8,416.5 1332.4,418.5 1328.5,420.5 1320.4,422.8 1312.4,423.9 1266.4,425.6 1252.4,424.9 1240.4,423.1 1230.4,420.2 1210.4,412.7 1196.2,406.5 1176.1,396.5 1173.5,394.5 1172.4,392.9 1172,390.5 1173,388.5 1175.4,386.5Z"/>
<path fill="#d60000" fill-rule="evenodd" d="M1224.4,394.5 1228.4,393.1 1234.4,393.1 1240.1,394.5 1247,398.5 1246.4,399.3 1244.4,399.6 1234.4,400.4 1230.4,400 1226.2,398.5 1223.6,396.5Z"/>
<use href="#cst" class="cs" transform="translate(0 0)"/>
</svg>
<rect class="fr" x="78.40" y="132.50" width="1331.10" height="655.90"/>
<rect shape-rendering="crispEdges" x="78.40" y="831.80" width="66.55" height="65.60" fill="#00009b"/>
<rect shape-rendering="crispEdges" x="144.45" y="831.80" width="67.05" height="65.60" fill="#0000d6"/>
<rect shape-rendering="crispEdges" x="211.01" y="831.80" width="67.05" height="65.60" fill="#0000ff"/>
<rect shape-rendering="crispEdges" x="277.56" y="831.80" width="67.05" height="65.60" fill="#0030ff"/>
<rect shape-rendering="crispEdges" x="344.12" y="831.80" width="67.05" height="65.60" fill="#0064ff"/>
<rect shape-rendering="crispEdges" x="410.67" y="831.80" width="67.05" height="65.60" fill="#0098ff"/>
<rect shape-rendering="crispEdges" x="477.23" y="831.80" width="67.05" height="65.60" fill="#00ccff"/>
<rect shape-rendering="crispEdges" x="543.78" y="831.80" width="67.05" height="65.60" fill="#16ffe1"/>
<rect shape-rendering="crispEdges" x="610.34" y="831.80" width="67.05" height="65.60" fill="#3cffba"/>
<rect shape-rendering="crispEdges" x="676.89" y="831.80" width="67.05" height="65.60" fill="#66ff90"/>
<rect shape-rendering="crispEdges" x="743.45" y="831.80" width="67.05" height="65.60" fill="#90ff66"/>
<rect shape-rendering="crispEdges" x="810.00" y="831.80" width="67.05" height="65.60" fill="#baff3c"/>
<rect shape-rendering="crispEdges" x="876.56" y="831.80" width="67.05" height="65.60" fill="#e4ff13"/>
<rect shape-rendering="crispEdges" x="943.11" y="831.80" width="67.05" height="65.60" fill="#ffde00"/>
<rect shape-rendering="crispEdges" x="1009.67" y="831.80" width="67.05" height="65.60" fill="#ffae00"/>
<rect shape-rendering="crispEdges" x="1076.22" y="831.80" width="67.05" height="65.60" fill="#ff7e00"/>
<rect shape-rendering="crispEdges" x="1142.78" y="831.80" width="67.05" height="65.60" fill="#ff4e00"/>
<rect shape-rendering="crispEdges" x="1209.34" y="831.80" width="67.05" height="65.60" fill="#ff1e00"/>
<rect shape-rendering="crispEdges" x="1275.89" y="831.80" width="67.05" height="65.60" fill="#d60000"/>
<rect shape-rendering="crispEdges" x="1342.44" y="831.80" width="67.05" height="65.60" fill="#9b0000"/>
<rect class="fr" x="78.40" y="831.80" width="1331.10" height="65.60"/>
<path class="tk" d="M78.40 897.40v14.6"/>
<text class="tl" x="78.40" y="958.70">0.0</text>
<path class="tk" d="M278.06 897.40v14.6"/>
<text class="tl" x="278.06" y="958.70">7.5</text>
<path class="tk" d="M477.73 897.40v14.6"/>
<text class="tl" x="477.73" y="958.70">15.0</text>
<path class="tk" d="M677.39 897.40v14.6"/>
<text class="tl" x="677.39" y="958.70">22.5</text>
<path class="tk" d="M877.06 897.40v14.6"/>
<text class="tl" x="877.06" y="958.70">30.0</text>
<path class="tk" d="M1076.73 897.40v14.6"/>
<text class="tl" x="1076.73" y="958.70">37.5</text>
<path class="tk" d="M1276.39 897.40v14.6"/>
<text class="tl" x="1276.39" y="958.70">45.0</text>
<text class="tt" x="743.95" y="1092.00">Ionosphere&#160; (h=450.0 km), 2017-04-28 06:00 UT</text>
<svg x="78.40" y="1117.50" width="1331.10" height="655.90" viewBox="78.40 1117.50 1331.10 655.90" overflow="hidden">
<rect x="78.4" y="1117.5" width="1331.1" height="655.9" fill="#00009b"/>
<path fill="#0000d6" fill-rule="evenodd" d="M74.4,1113.5 1412.4,1113.5 1412.4,1775.5 1041.8,1775.5 1040.9,1767.5 1037.5,1749.5 1035.8,1743.5 1033.8,1739.5 1029.9,1735.5 1018.4,1727 1004.8,1711.5 1000.4,1707.7 996.4,1705.2 987.2,1701.5 976.4,1699.4 964.4,1699.1 942.4,1701.8 930.4,1702 916.4,1700.3 898,1695.5 882.4,1689.8 870.4,1683.6 862.4,1677.8 838.6,1657.5 829.5,1651.5 818.4,1645.7 804.4,1640 786.4,1634.3 770.4,1630.5 748.4,1626.9 742.4,1627 734.4,1629 662.4,1656 644.4,1664.7 610.4,1684.4 590.4,1693.2 566.4,1700.9 540.4,1706.5 522.4,1708.9 504.4,1709.8 488.4,1709.2 470.4,1706.9 454.4,1703.4 435.7,1697.5 421.6,1691.5 407.6,1683.5 402.6,1679.5 399.4,1675.5 398.3,1671.5 398.7,1669.5 399.8,1667.5 401.8,1665.5 405,1663.5 415.9,1659.5 433.8,1655.5 504.4,1642.9 534.4,1636.2 550.4,1631.7 566.4,1626.4 616.4,1607.1 628.4,1603.5 642.4,1600.5 658.4,1598.8 672.4,1599 686.4,1600.6 726.4,1607.2 734.4,1607.6 740.4,1607 746.4,1604.8 753.9,1599.5 758.4,1594.2 761.8,1587.5 763.3,1579.5 763.2,1575.5 762.2,1569.5 759.2,1561.5 749.3,1541.5 746.7,1533.5 745.2,1525.5 744.6,1511.5 746.3,1483.5 746.4,1471.5 744.7,1451.5 742,1433.5 738.4,1416.2 729.4,1383.5 722.4,1355.5 718.7,1343.5 714.5,1333.5 708.5,1323.5 702.4,1316.2 682.4,1295.2 676.4,1290.6 672.4,1288.5 666.4,1286.7 660.4,1286.2 628.4,1289.4 608.4,1289.1 604.4,1288.6 600.9,1287.5 599.8,1285.5 600.5,1281.5 612.4,1250.3 614.4,1247.2 618.4,1243.2 634.4,1234 639.3,1229.5 642.4,1223.4 642.9,1219.5 642.4,1214.9 640,1209.5 636.4,1205.5 630.6,1201.5 625.7,1199.5 616.6,1197.5 602.4,1195.5 574.4,1194.8 560.4,1195.7 548.4,1198.2 542.4,1201 526.4,1210.9 514.4,1217.3 502.4,1222.2 488.4,1226.3 474.4,1229 462.4,1230.5 420.4,1231.6 410.4,1232.8 402.4,1234.6 394.6,1237.5 388.5,1241.5 385.3,1245.5 383.9,1249.5 383.8,1255.5 385.6,1261.5 389.2,1267.5 392.8,1271.5 397.8,1275.5 405.3,1279.5 412.4,1282.1 422.4,1284.7 466.4,1292.8 480.4,1294.7 492.4,1295.7 514.4,1295.4 550.4,1292.1 570.4,1291.1 585.2,1291.5 589.1,1293.5 589.2,1295.5 587.4,1299.5 584.7,1303.5 579.6,1309.5 572.4,1315.8 562.4,1321.6 526.4,1334.6 522.4,1334.4 520.4,1333.7 512.3,1329.5 507.1,1327.5 504.4,1327 500.4,1327.3 496.4,1329.1 494.4,1330.7 490.7,1335.5 489.8,1339.5 490.5,1341.5 492.4,1343.5 496.1,1345.5 504.4,1346.9 520.4,1345.1 524.4,1345.6 530.4,1348.2 556.4,1362.3 564.4,1368.8 570.4,1376.2 576.4,1387.4 578.6,1395.5 578.7,1399.5 577.8,1403.5 575.1,1407.5 571.9,1409.5 568.4,1410.4 562.4,1410.4 536.4,1404.8 530.4,1404.4 524.4,1404.9 518.4,1406.7 510.4,1411.3 503.4,1417.5 498.6,1423.5 496,1429.5 495.9,1431.5 496.6,1435.5 499.8,1441.5 514.4,1462.3 517.9,1469.5 519.6,1475.5 520.1,1481.5 519.2,1487.5 516.5,1493.5 513.6,1497.5 508.4,1502.4 502.4,1506.6 494.4,1510.7 486.4,1514.1 474.4,1518.1 460.4,1522.1 448.4,1524.9 436.4,1526.9 420.4,1528 404.4,1527.4 386.4,1525.3 346.4,1518 330.4,1515.8 312.4,1514.9 292.4,1515.4 274.4,1516.9 256.4,1519.2 208.4,1528.6 162.4,1535 148.4,1538.5 142.4,1540.9 137.5,1543.5 132.6,1547.5 129.7,1551.5 128.1,1555.5 127.6,1559.5 128.2,1563.5 130.4,1568.6 134.4,1573.4 138.4,1576.5 146.4,1580.9 156.4,1584.7 197.6,1595.5 228.4,1605.5 238.7,1609.5 246.8,1613.5 249.5,1615.5 250.6,1617.5 249.5,1619.5 245.5,1621.5 238.4,1623.1 230.4,1624.2 214.4,1624.8 178.4,1624.2 162.4,1625.5 154.4,1627.5 146.4,1630.9 140.4,1634.6 134.4,1639.5 128.4,1645.7 99.4,1679.5 93.5,1689.5 89.9,1699.5 87.7,1713.5 87.6,1721.5 88.3,1731.5 91.4,1749.5 97.6,1771.5 98.3,1775.5 74.4,1775.5ZM274.4,1353.3 268.4,1354.7 264.4,1357.4 263.4,1359.5 264,1363.5 267.3,1367.5 273.1,1371.5 281.3,1375.5 288.4,1378.1 320.4,1386.8 344.4,1390.6 350.4,1390.5 355.7,1389.5 361,1387.5 364.3,1385.5 366,1383.5 366.4,1381.5 365.7,1379.5 361.1,1375.5 352.5,1371.5 324.4,1360.9 316.4,1358.6 292.8,1353.5 284.4,1352.9Z"/>
<path fill="#0000ff" fill-rule="evenodd" d="M74.4,1113.5 1412.4,1113.5 1412.4,1557.7 1409.2,1559.5 1406.4,1562.7 1404.4,1566.6 1403.1,1571.5 1402.9,1579.5 1405.4,1599.5 1404.9,1609.5 1402.5,1617.5 1397.5,1625.5 1389.7,1633.5 1379.5,1641.5 1365.9,1649.5 1350.4,1656.9 1340.4,1660.9 1325.8,1665.5 1306.4,1673.5 1303,1675.5 1300.9,1677.5 1299.8,1679.5 1300.4,1682.4 1303.3,1685.5 1306.8,1687.5 1314.4,1690.4 1330.4,1694 1362.4,1697.4 1372.4,1699 1382.4,1702.1 1392.4,1707.8 1399.1,1713.5 1404.2,1719.5 1407.9,1725.5 1412.2,1735.5 1412.4,1743.9 1407.7,1755.5 1404.4,1761.6 1396,1773.5 1395.2,1775.5 1085.7,1775.5 1079.1,1757.5 1073.4,1737.5 1070.4,1729.5 1067.2,1723.5 1064.4,1719.5 1060.7,1715.5 1055.8,1711.5 1023,1691.5 1008.4,1685.3 990.4,1679.1 974.4,1674.5 962.4,1672 940.4,1669.2 934.4,1667.6 930.4,1665.9 924.4,1662.1 918.4,1656.7 903.1,1637.5 894.8,1629.5 882.4,1621.8 854.4,1608 842.4,1600 837.2,1595.5 831.7,1589.5 814.4,1563.5 795.3,1539.5 790.7,1531.5 787.9,1523.5 786.4,1515.5 783.6,1493.5 772.4,1451.5 766.3,1419.5 756.7,1375.5 748.4,1327.1 738.5,1285.5 737.3,1275.5 737.2,1265.5 740.4,1231.5 739.8,1225.5 737.7,1219.5 733.8,1213.5 725.8,1205.5 712.6,1195.5 696.8,1185.5 686.4,1180.4 676.4,1176.7 664.4,1173.4 650.4,1170.7 630.4,1168.5 606.4,1167.8 578.4,1168.6 556.4,1170.7 546.4,1172.7 538.4,1175.1 506.4,1188.2 486.4,1195.2 470.4,1199.1 456.4,1200.8 438.4,1200.4 404.4,1196.4 384.4,1194.8 306.4,1191.7 252.4,1185.8 240.4,1186 236.4,1186.8 232.4,1188.6 228.8,1191.5 226.4,1195.5 225.6,1199.5 226.2,1205.5 229.7,1213.5 236.9,1225.5 242.7,1233.5 254.5,1247.5 258.8,1255.5 261.6,1265.5 264.9,1285.5 265.7,1299.5 264.9,1307.5 262.4,1311.6 259.9,1313.5 254.4,1315.8 242.4,1318.3 212.4,1321.8 204.4,1324.1 196.4,1328.3 190.4,1333.1 186.4,1337.4 181.2,1345.5 179.9,1349.5 179.7,1353.5 180.5,1357.5 182.7,1361.5 186.3,1365.5 190.4,1368.8 202.4,1375.6 216.6,1381.5 252.1,1393.5 279.8,1401.5 318.4,1411.4 380.5,1423.5 394.4,1427.5 406.4,1432.3 415.7,1437.5 424.4,1443.8 432.4,1451.3 439.5,1459.5 445.1,1467.5 447.9,1473.5 448.9,1479.5 447.5,1485.5 445.1,1489.5 442.4,1492.5 434.4,1498.1 424.4,1502.1 412.4,1504.4 400.4,1505.1 384.4,1504.6 334.4,1498.8 320.4,1498.2 304.4,1498.6 272.4,1501.6 206.4,1512.1 148.4,1518.3 124.7,1521.5 105.7,1525.5 96.4,1528.5 89.6,1531.5 84.4,1535.5 78.1,1545.5 76.4,1547.5 74.4,1548.7Z"/>
<path fill="#0030ff" fill-rule="evenodd" d="M74.4,1113.5 824.3,1113.5 818.4,1116.9 816.4,1118.7 814.6,1121.5 813.9,1125.5 814.7,1131.5 820.4,1155.5 822.3,1169.5 820.4,1171.5 806.4,1166.4 792.4,1162.7 764.4,1157.1 736.4,1152.8 686.4,1148.2 636.4,1146.2 584.4,1146.8 532.4,1149.2 524.4,1150.3 514.4,1153.4 504.4,1154.8 442.1,1161.5 410.4,1164.2 376.4,1165.1 340.4,1163.5 300.5,1159.5 261.8,1153.5 146.4,1129.5 96.4,1120.3 90.4,1120.1 86.4,1120.8 82.4,1122.4 74.4,1127.1ZM834.6,1113.5 951.5,1113.5 954.2,1115.5 959.2,1117.5 970.4,1120 1030.4,1127 1086.4,1132.2 1172.4,1138.2 1320.4,1145.9 1404.4,1151.5 1412.4,1151.6 1412.4,1523.7 1408.4,1524.5 1402.4,1526.7 1382.1,1535.5 1373.5,1541.5 1369.1,1547.5 1367.7,1551.5 1366.7,1557.5 1364.8,1583.5 1360.6,1603.5 1359.5,1621.5 1356.9,1629.5 1352.5,1635.5 1348,1639.5 1341.9,1643.5 1336.4,1646.4 1328.4,1649.6 1310.4,1654.4 1272.4,1661.9 1266.4,1664 1260.4,1667.3 1253.6,1673.5 1248,1681.5 1239.5,1699.5 1234.1,1713.5 1234.6,1715.5 1238.4,1716.4 1275.5,1717.5 1302.4,1719.4 1322.3,1721.5 1347.8,1725.5 1372.4,1730.5 1376.4,1731.7 1379,1733.5 1380.4,1735.5 1380.6,1739.5 1378,1743.5 1372.4,1746.1 1346.4,1752.1 1326.6,1755.5 1308.4,1757.5 1262.4,1760 1232.4,1759.2 1215.2,1757.5 1211.4,1755.5 1211.7,1753.5 1216.4,1746.3 1220.4,1738.8 1226.2,1725.5 1227.5,1721.5 1227,1719.5 1226.4,1719.2 1220.4,1718.5 1202.4,1719.5 1171.8,1723.5 1152.5,1727.5 1129.6,1733.5 1123.3,1735.5 1118.4,1739 1116.8,1739.5 1114.4,1739.6 1110.4,1738.8 1106.4,1736.6 1104.4,1734.8 1095.9,1725.5 1087.5,1717.5 1071.9,1705.5 1026.4,1679 996.3,1663.5 977.4,1651.5 970.2,1645.5 966.5,1641.5 958.4,1627.7 954.2,1623.5 946.4,1619.8 918.4,1610.6 901.1,1603.5 893.7,1599.5 888.4,1595.9 879.6,1587.5 873.8,1579.5 866,1565.5 860.8,1557.5 843.2,1537.5 836.4,1527.5 831.9,1517.5 826.3,1495.5 823.3,1487.5 818.9,1479.5 804.4,1458.2 799.8,1449.5 797.3,1441.5 794.3,1421.5 787.4,1389.5 785.5,1375.5 785.4,1359.5 786.6,1351.5 788.6,1345.5 794.4,1335.3 808.5,1317.5 812.6,1311.5 816.8,1303.5 818.8,1297.5 819.8,1291.5 819.9,1287.5 815.7,1265.5 815.6,1253.5 817.5,1243.5 823.8,1225.5 827.1,1213.5 829.1,1201.5 829.5,1191.5 830.2,1187.5 830.4,1187.1 832.4,1188 834.4,1189.9 848.6,1207.5 852.4,1211 856.4,1213.4 860.4,1214 862.4,1213.5 864.4,1212 867,1207.5 869.1,1199.5 870.4,1191.3 873.2,1155.5 872.6,1145.5 870.4,1137.4 866,1129.5 859.6,1123.5 850.4,1118.9ZM74.4,1159.5 83.1,1163.5 100.4,1168.3 124.4,1176.2 134.4,1180.3 144.4,1185.5 152.4,1190.9 160.4,1198.3 166.4,1205.8 173,1217.5 177.9,1231.5 180.2,1243.5 180.6,1255.5 179.1,1271.5 176.9,1283.5 173.1,1297.5 168.6,1309.5 157.7,1331.5 155.1,1339.5 154.2,1345.5 154.7,1351.5 156.5,1357.5 159.6,1363.5 164.4,1369.5 173.6,1377.5 184.4,1384.3 202.4,1393.4 220.4,1401 244.4,1410.1 268.4,1418.4 354.4,1445.6 364.4,1451.5 369.3,1455.5 373,1459.5 375.1,1463.5 375.4,1465.5 374.7,1467.5 372.8,1469.5 368.2,1471.5 362.4,1472.7 326.4,1475.8 272.4,1484.9 204.4,1498.8 185.3,1501.5 124.4,1508.4 100.4,1512.2 74.4,1517.2ZM1146.4,1751.5 1148.4,1750.9 1154.6,1751.5 1176.7,1755.5 1186.6,1757.5 1189.5,1759.5 1184.5,1761.5 1182.4,1761.7 1176.4,1762 1169.9,1761.5 1161.5,1759.5 1156.2,1757.5 1148.8,1753.5Z"/>
<path fill="#0064ff" fill-rule="evenodd" d="M998.4,1166 1116.4,1162.3 1150.4,1162.3 1186.4,1163.6 1236.4,1167.2 1316.4,1175.4 1392.4,1185.8 1404.4,1186.9 1407.1,1187.5 1410.5,1189.5 1411.6,1191.5 1409.7,1193.5 1406.4,1195.2 1394.4,1196.7 1388.4,1198.1 1380.4,1201 1374.4,1204.1 1368.4,1208.6 1364.4,1213.1 1362.2,1217.5 1361.4,1221.5 1361.9,1225.5 1363.6,1229.5 1366.8,1233.5 1372.4,1237.7 1381.1,1241.5 1394.4,1245.4 1404.4,1247.6 1412.4,1248.4 1412.4,1498.8 1404.4,1498.2 1400.4,1498.7 1396.4,1499.9 1388.7,1503.5 1382.1,1507.5 1368.4,1517.5 1349.3,1527.5 1344.2,1531.5 1340.9,1535.5 1337.2,1543.5 1332.8,1561.5 1325.3,1581.5 1323.2,1589.5 1322.7,1595.5 1323.3,1601.5 1330,1623.5 1329.6,1627.5 1328.7,1629.5 1324.8,1633.5 1316.5,1637.5 1302.8,1641.5 1276.4,1646.4 1258.4,1648.8 1248.4,1651.6 1238.4,1657.3 1222.4,1670.3 1214.4,1675.9 1204.4,1681.1 1194.4,1684.8 1180.4,1688.5 1162.4,1692.2 1136.4,1696.9 1120.4,1699.1 1112.4,1699.6 1104.4,1699.2 1096.4,1697.9 1088.4,1695.7 1076.4,1691.4 1062.4,1685.5 1042.4,1675 1014.4,1656.9 1007.9,1651.5 1002.9,1645.5 999.7,1639.5 997.6,1631.5 997.3,1609.5 995.9,1605.5 992.4,1601.2 986.1,1597.5 978.4,1595 950.4,1591 938.4,1588.2 928.4,1584 920.4,1578.3 916,1573.5 910.2,1565.5 874.4,1508.4 868.4,1496.9 860.6,1477.5 856.7,1469.5 852.4,1463.1 841.3,1449.5 837.6,1443.5 834.2,1435.5 832.6,1427.5 832.7,1417.5 834.7,1409.5 838.4,1401.5 846.5,1389.5 849.7,1383.5 857.1,1355.5 860.3,1347.5 864.6,1339.5 872.4,1329.4 902.4,1297.9 922.4,1279.7 932.4,1269.8 938.4,1262.9 941.7,1257.5 942.3,1255.5 942.4,1251.5 938.2,1239.5 935.7,1229.5 933.3,1217.5 932,1205.5 931.9,1195.5 932.8,1187.5 934.6,1181.5 937.1,1177.5 940.4,1174.7 946.4,1172.2 959,1169.5 972.4,1167.6ZM1140.4,1211.5 1109.7,1213.5 1094.4,1215.6 1086.2,1217.5 1080.7,1219.5 1083.8,1221.5 1089.9,1223.5 1099.6,1225.5 1116.4,1227 1150.4,1228.6 1172.4,1227.1 1184.4,1227.1 1198.4,1224.2 1206.7,1223.5 1214.4,1222.1 1216.5,1221.5 1218.2,1219.5 1217.1,1217.5 1212.4,1215.9 1156.4,1211.4ZM74.4,1271.5 89,1273.5 104.4,1277.1 112.4,1280.6 118.9,1285.5 123,1291.5 124.4,1295.5 125,1299.5 124.4,1305.5 120.6,1317.5 121.1,1323.5 123,1327.5 132.4,1341.6 143.4,1359.5 150.4,1369.4 160.4,1379.9 172.4,1388.9 186.9,1397.5 225.6,1417.5 238.4,1425.5 248.8,1433.5 256.8,1441.5 259.5,1445.5 261.2,1449.5 261.5,1453.5 261,1455.5 258.6,1459.5 256.7,1461.5 248.2,1467.5 235.5,1473.5 218.9,1479.5 200.4,1484.6 178.4,1488.7 122.1,1495.5 100.4,1499 82.4,1502.8 74.4,1503.5Z"/>
<path fill="#0098ff" fill-rule="evenodd" d="M1116.2,1251.5 1170.4,1250.7 1230.4,1253.1 1264.4,1255.8 1278.4,1256.3 1312.4,1259.6 1354.4,1264.6 1404,1271.5 1412.4,1273.4 1412.4,1485.9 1404.4,1485.4 1400.4,1485.7 1362.4,1492.4 1344.4,1495 1316.4,1498.2 1279.4,1501.5 1222.4,1508.4 1216.4,1509.5 1194.4,1516.3 1180.4,1518.6 1136.4,1520.5 1104.4,1522.7 1097.6,1523.5 1089.1,1525.5 1083.8,1527.5 1081.3,1529.5 1080.5,1531.5 1080.5,1533.5 1082.8,1539.5 1093.1,1557.5 1094.2,1561.5 1093.7,1565.5 1091.5,1569.5 1089.8,1571.5 1084.4,1575.8 1076.4,1579.9 1066.4,1582.5 1060.4,1582.9 1052.4,1582.3 1026.4,1576 1006.4,1573 996.4,1570.8 986,1567.5 976.5,1563.5 968.4,1559.2 960,1553.5 951.3,1545.5 933,1523.5 908.4,1497.5 901.5,1489.5 894.2,1479.5 868.6,1439.5 864.1,1429.5 863.2,1425.5 862.7,1419.5 864.2,1409.5 869.2,1397.5 873.6,1389.5 878.4,1382.4 888.4,1370.5 898.4,1360.9 941.2,1323.5 950.9,1313.5 955,1307.5 957.8,1301.5 964.4,1277.3 966.4,1273.7 968.8,1271.5 973.4,1269.5 982.4,1267.7 1002.4,1262.5 1032.4,1257 1060.4,1254.4ZM74.4,1493.9 74.4,1329.9 76.4,1330.4 93.3,1339.5 112.4,1347.6 120.4,1352.1 128.4,1358.6 149.5,1381.5 160.4,1391.1 174.4,1400.8 206.5,1419.5 216.4,1426.7 221.4,1431.5 224.5,1435.5 226.7,1439.5 228,1443.5 228.3,1447.5 227.7,1451.5 224.4,1457.5 217.4,1463.5 208.4,1468.3 196.4,1473 180.4,1477.5 160.4,1481.4 102.4,1489.5 84.4,1493.2ZM1218.9,1541.5 1228.4,1540 1236.4,1539.8 1246.4,1541 1255.8,1543.5 1262.4,1546.7 1266.4,1550.3 1268.1,1553.5 1268.5,1555.5 1267.7,1559.5 1264.9,1563.5 1259.2,1567.5 1234.4,1577.2 1216.4,1589.2 1210.4,1591.9 1204.4,1592.9 1198.4,1592.3 1192.4,1590.1 1186.4,1586.5 1179.2,1579.5 1175.9,1573.5 1175.4,1567.5 1176.6,1563.5 1178.9,1559.5 1184.5,1553.5 1190.4,1550.1 1210.4,1543.7ZM1101.7,1601.5 1120.4,1601.1 1144.4,1602.7 1156.4,1604.2 1168.4,1606.6 1182.4,1610.7 1190.4,1614.3 1196.4,1617.8 1202.4,1622.3 1206.4,1626.3 1208.7,1629.5 1210.4,1634.2 1210.6,1639.5 1209.5,1643.5 1205.8,1649.5 1198.4,1656.2 1189.3,1661.5 1176.4,1666.6 1158.4,1671.6 1140.4,1675.2 1122.4,1677.4 1106.4,1677.9 1094.4,1677.3 1080.4,1675.3 1068.4,1672.4 1058.4,1668.7 1050.4,1664.6 1042.4,1659.1 1028.7,1645.5 1025.6,1641.5 1024.9,1639.5 1024.9,1637.5 1025.7,1635.5 1027.4,1633.5 1042.4,1619.9 1052.4,1613.3 1062.4,1608.7 1074.4,1605.1 1088.4,1602.7Z"/>
<path fill="#00ccff" fill-rule="evenodd" d="M1166.3,1289.5 1178.4,1289.2 1200.4,1291.6 1224.4,1290.9 1248.4,1293.6 1268.4,1293.9 1278.4,1294.9 1286.4,1296.7 1298.4,1300.5 1330.4,1312.1 1338.4,1313.4 1360.4,1314.8 1372.4,1316.9 1382.4,1320.2 1405,1329.5 1412.4,1331.5 1412.4,1478.1 1400.4,1478.1 1362.4,1483.9 1336.4,1486.7 1314.4,1488.1 1264.4,1490.2 1232.4,1492.8 1224.4,1494.2 1218.4,1495.9 1202.4,1504.6 1194.4,1507.8 1186.4,1509.8 1174.4,1511.2 1116.4,1513.9 1098.4,1513.8 1086.4,1512.9 1074.4,1511.2 1042.4,1504.6 1036.4,1504.2 1032.4,1504.6 1026.4,1506.9 1020.6,1511.5 1017.6,1515.5 1016.7,1517.5 1016.5,1521.5 1017.4,1523.5 1019.1,1525.5 1030.1,1531.5 1034.4,1535.2 1037,1539.5 1037.9,1543.5 1037.7,1545.5 1035.8,1549.5 1032.4,1552.2 1026.4,1554.2 1020.4,1554.4 1014.4,1552.9 1006.6,1549.5 999.7,1545.5 994.2,1541.5 986.4,1534.2 965.7,1511.5 942.4,1493.1 931.3,1483.5 922.4,1474.4 912.4,1462.6 894.7,1439.5 889.7,1431.5 888.1,1427.5 886.7,1421.5 887,1413.5 888.8,1407.5 891,1403.5 897.5,1395.5 910.4,1384.6 936.4,1365.2 958.8,1349.5 1004.4,1313.7 1014.4,1307.3 1024.4,1303.5 1030.4,1302.4 1038.4,1301.8 1060.4,1302.1 1092.4,1304.4 1102.4,1304.2 1108.4,1302.9 1124.4,1296.8 1132.4,1294.5ZM74.4,1485.5 74.4,1342.5 80.4,1344.3 108.2,1357.5 118.4,1363.5 128.4,1371.7 146.4,1390.4 154.4,1397.5 166.4,1406.4 189.6,1421.5 197.8,1427.5 202.2,1431.5 205.6,1435.5 208.5,1441.5 208.8,1445.5 208.4,1447.5 204.9,1453.5 198.4,1458.8 190.4,1463.1 178.9,1467.5 166.4,1471.1 152.4,1473.9 100.4,1481.7 84.4,1485ZM1109.5,1617.5 1120.4,1617.3 1132.4,1618.3 1142.4,1620.1 1152.4,1623.2 1161.3,1627.5 1166.1,1631.5 1168.6,1635.5 1168.7,1639.5 1166.4,1643.5 1161.5,1647.5 1154.5,1651.5 1148.4,1654.2 1140.4,1656.7 1132.4,1658.4 1116.4,1659.7 1100.4,1658.5 1084.4,1655.1 1075.7,1651.5 1060.4,1644.1 1057.2,1641.5 1056.7,1639.5 1057.6,1637.5 1059.7,1635.5 1071.9,1627.5 1079.4,1623.5 1084.7,1621.5 1092.4,1619.6Z"/>
<path fill="#16ffe1" fill-rule="evenodd" d="M1163.4,1301.5 1178.4,1301 1224.4,1302.3 1272.4,1306.4 1282.4,1308.3 1294.4,1311.9 1304.4,1315.8 1321.1,1323.5 1328.4,1326.1 1336.4,1327.2 1356.4,1328.3 1368.4,1329.9 1378.4,1332.2 1406.4,1340.3 1412.4,1341.4 1412.4,1470.8 1402.4,1470.9 1364.4,1476.5 1336.4,1479.2 1314.4,1480.3 1258.4,1481.8 1234.4,1483.3 1224.4,1485 1218.4,1486.9 1212.4,1489.8 1196.4,1500.2 1190.4,1502.6 1184.4,1504.1 1172.4,1505.2 1118.4,1507.8 1100.4,1507.7 1088.4,1506.2 1076.4,1503.8 1026.4,1489.8 1014.4,1485.1 998.4,1476.1 991.9,1473.5 986.4,1472.7 982.4,1472.9 970.4,1475.5 966.4,1475.8 962.4,1475.5 956.4,1473.7 950.4,1470.5 944.4,1466.3 930.4,1453.8 919.5,1441.5 911.7,1429.5 908.9,1421.5 908.5,1417.5 909,1413.5 910.3,1409.5 912.4,1405.8 917.7,1399.5 928.4,1391 958.4,1371.1 990.4,1343.7 1002.4,1335.1 1012.4,1329.2 1024.4,1324 1034.4,1321.5 1058.4,1318.7 1100.4,1315.1 1110.4,1313 1130.4,1306.9 1138.4,1305ZM74.4,1477.3 74.4,1351.1 76.4,1351.5 80.4,1353 102.4,1364.3 114,1371.5 123.9,1379.5 129.9,1385.5 140.4,1397.9 146.4,1403.8 176.3,1427.5 182.9,1433.5 185.7,1437.5 187,1441.5 186.5,1445.5 183.9,1449.5 180.4,1452.4 174.8,1455.5 166.4,1458.9 158.1,1461.5 130.9,1467.5 98.4,1473.5 84.4,1476.7ZM1095.9,1637.5 1112.4,1634.2 1118.4,1634.8 1122.4,1635.5 1126.4,1637 1127.3,1637.5 1128.3,1639.5 1127.1,1641.5 1123.8,1643.5 1117.1,1645.5 1112.4,1645.8 1108.4,1645.4 1101.8,1643.5 1096.7,1641.5 1094.5,1639.5Z"/>
<path fill="#3cffba" fill-rule="evenodd" d="M1151.7,1311.5 1174.4,1309.8 1214.4,1310.6 1240.4,1312.1 1266.4,1314.7 1278.4,1316.9 1290.4,1320.3 1300.4,1324 1318.4,1332 1326.4,1334.8 1334.4,1336.1 1352.4,1337.3 1364.4,1338.8 1412.4,1349.5 1412.4,1463.1 1402.4,1463.4 1364.4,1469.1 1338.4,1471.4 1318.4,1472.3 1260.4,1472.9 1234.4,1474.5 1224.4,1476.4 1216.4,1479.3 1210.4,1482.7 1194.5,1493.5 1190.4,1495.5 1184.4,1497.4 1170.4,1499 1116.4,1502 1104.4,1502.1 1092.4,1500.5 1079.1,1497.5 1039.8,1485.5 1030.4,1481.8 1018.4,1476 996.4,1462.7 988.4,1458.7 982.4,1456.7 966.4,1453.3 960.4,1451.3 952.4,1447 945.4,1441.5 938.4,1434.2 933.8,1427.5 931.7,1421.5 931.6,1415.5 932.9,1411.5 936.9,1405.5 945.5,1397.5 964.4,1383 997.9,1351.5 1006.4,1344.9 1016.4,1338.7 1026.4,1334.5 1034.4,1332.3 1098.4,1323.5 1110.4,1321 1136.4,1314.1ZM74.4,1468.2 74.4,1359.1 76.4,1359.5 80.4,1361.2 98.3,1371.5 109.4,1379.5 118.3,1387.5 121.7,1391.5 125.7,1397.5 136.5,1417.5 139.4,1423.5 140.7,1429.5 139.4,1435.5 136.7,1439.5 128.5,1447.5 120.1,1453.5 111.5,1457.5 86.4,1466.4 80.4,1467.8Z"/>
<path fill="#66ff90" fill-rule="evenodd" d="M1149.5,1319.5 1170.4,1317.8 1196.4,1317.8 1232.4,1319.2 1262.4,1322.1 1274.4,1324.2 1286.4,1327.3 1296.4,1330.8 1317.8,1339.5 1326.4,1342.1 1334.4,1343.4 1362.4,1346.3 1412.4,1356.7 1412.4,1454.5 1402.4,1455 1362.4,1461.1 1338.4,1463 1316.4,1463.5 1260.4,1462.8 1234.4,1464.2 1226.4,1465.8 1218.4,1468.6 1212.4,1472 1199,1481.5 1192.4,1485.5 1186.4,1488.4 1180.4,1490.3 1170.4,1491.9 1148.4,1493.9 1120.4,1495.7 1106.4,1495.8 1094.4,1494 1077.5,1489.5 1046.4,1479.7 1032.4,1473.6 1015.3,1463.5 1007.4,1457.5 988.4,1441.1 982.4,1437.3 970,1431.5 966.4,1428.7 963.9,1425.5 962.1,1421.5 961.3,1415.5 962,1411.5 964.4,1406.8 980.4,1389 996.1,1369.5 1006.5,1357.5 1012.9,1351.5 1020.4,1346.3 1028.4,1342.6 1038.4,1339.8 1084.4,1333.6 1104.4,1329.4 1134.4,1322.1ZM74.4,1369.5 78.4,1371 94.4,1380.7 100.7,1385.5 106.9,1391.5 111.2,1397.5 114.1,1403.5 115.8,1409.5 116.5,1417.5 115.7,1423.5 113.5,1429.5 109.7,1435.5 104.3,1441.5 97.2,1447.5 87.7,1453.5 80.4,1456.5 74.4,1457.4Z"/>
<path fill="#90ff66" fill-rule="evenodd" d="M1163,1325.5 1184.4,1325 1216.4,1325.7 1242.4,1327.3 1262.4,1329.6 1274.4,1331.8 1286.4,1334.9 1316.4,1346.1 1326.4,1349 1334.4,1350.4 1360.4,1353.1 1412.4,1363.7 1412.4,1445.1 1404.4,1445.7 1386.4,1448.8 1364.4,1451.8 1336.4,1453.9 1314.4,1453.8 1262.4,1451.1 1242.4,1451.2 1230.4,1452.2 1222.4,1454 1216.4,1456.8 1194.4,1473.3 1186.4,1478 1178.4,1481.6 1168.4,1484.4 1156.4,1486.5 1140.4,1488.2 1124.4,1489.1 1112.4,1489.1 1102.4,1488 1092.2,1485.5 1074.1,1479.5 1057.3,1473.5 1048,1469.5 1038.9,1463.5 1029.8,1455.5 1023.1,1447.5 1018.8,1439.5 1016.5,1431.5 1015.4,1419.5 1015.2,1395.5 1017.4,1377.5 1020.6,1363.5 1022.6,1359.5 1026.1,1355.5 1030.4,1352.3 1035.9,1349.5 1046.4,1346.4 1080.4,1342.1 1132.4,1329.6 1148.4,1326.9ZM74.4,1446.1 74.4,1382.2 78.4,1383.6 88.4,1389.1 94.4,1393.5 98.1,1397.5 100.6,1401.5 102.2,1405.5 103.2,1411.5 102.7,1417.5 101.5,1421.5 98.6,1427.5 94.4,1433.1 90.2,1437.5 84.4,1442.3 78.4,1445.3Z"/>
<path fill="#baff3c" fill-rule="evenodd" d="M1153.7,1333.5 1176.4,1332.3 1208.4,1332.6 1236.4,1334.1 1260.4,1336.6 1272.4,1338.8 1284.4,1341.8 1316.4,1353.2 1328.4,1356.6 1336.4,1358 1358.4,1360.2 1400.4,1368.2 1412.4,1371.2 1412.4,1434.4 1406.4,1435.1 1386.6,1439.5 1372.5,1441.5 1352.4,1443.5 1332.4,1444.5 1312.4,1443.9 1274.4,1439.6 1262.4,1438.8 1234.4,1437.9 1220.4,1438.9 1214.4,1440.6 1208.4,1443.9 1203.9,1447.5 1187.1,1463.5 1179.2,1469.5 1172.4,1473.5 1164.4,1476.7 1156.4,1479 1146.4,1480.8 1136.4,1481.8 1126.4,1482.1 1116.4,1481.7 1108.4,1480.7 1100.4,1478.7 1091.3,1475.5 1077.7,1469.5 1066.7,1463.5 1060.7,1459.5 1054.1,1453.5 1048.7,1445.5 1047.2,1441.5 1046.5,1437.5 1046.7,1433.5 1048,1429.5 1050.4,1426.2 1052.4,1425.1 1054.4,1424.7 1068.4,1426.7 1075.2,1425.5 1078.4,1423.8 1080.8,1421.5 1082.4,1418.1 1082.7,1415.5 1082.3,1413.5 1080.4,1410.2 1078.4,1408.3 1074.4,1406.1 1066.4,1404.3 1054.4,1404.1 1050.4,1402.6 1047.5,1399.5 1043.8,1391.5 1041.8,1383.5 1041,1377.5 1041.1,1371.5 1041.8,1367.5 1044.8,1361.5 1049.5,1357.5 1054.4,1355.5 1080.4,1351 1108.4,1342.3 1124.4,1338.2 1138.4,1335.5ZM74.4,1431.9 74.4,1396.1 78.2,1397.5 84.4,1402.3 87.7,1407.5 88.6,1413.5 87.5,1419.5 84.2,1425.5 80,1429.5 76.4,1431.5Z"/>
<path fill="#e4ff13" fill-rule="evenodd" d="M1149.2,1341.5 1172.4,1340 1202.4,1339.9 1232.4,1341.1 1256.4,1343.5 1270.4,1345.9 1284.9,1349.5 1297,1353.5 1320.4,1362.5 1332.4,1366 1356.4,1369.4 1382.4,1374.3 1402.4,1377.3 1412.4,1382.2 1412.4,1420.3 1408.4,1421 1392.4,1425.7 1382.4,1427.7 1347.7,1431.5 1332.4,1432.6 1314.4,1432 1280.4,1427.7 1260.4,1426.2 1230.4,1425.3 1214.4,1426.6 1204.4,1429.5 1198.4,1432.5 1194.4,1435.2 1187.5,1441.5 1175.8,1455.5 1170.4,1461.1 1164.7,1465.5 1158.4,1468.9 1148.4,1472.2 1136.4,1474.1 1124.4,1473.9 1112,1471.5 1102.4,1467.5 1096.2,1463.5 1090,1457.5 1087.8,1453.5 1087.2,1449.5 1088.2,1445.5 1096.8,1431.5 1099.3,1425.5 1100.1,1421.5 1099.9,1415.5 1098,1409.5 1094.4,1403.4 1088.4,1396.3 1077.5,1385.5 1074.7,1381.5 1073,1377.5 1073,1373.5 1075.1,1369.5 1082.4,1363.5 1092.2,1357.5 1104.5,1351.5 1114.4,1348 1124.3,1345.5Z"/>
<path fill="#ffde00" fill-rule="evenodd" d="M1155.1,1349.5 1186.4,1348 1220.4,1348.3 1248.4,1350.5 1272.4,1354.5 1284.4,1357.7 1296.4,1361.8 1305,1365.5 1328.4,1377 1350,1385.5 1354.2,1387.5 1360.1,1391.5 1362.9,1395.5 1363.1,1397.5 1362.6,1399.5 1361.3,1401.5 1359.2,1403.5 1352.7,1407.5 1342.4,1411.8 1330.4,1414.7 1322.4,1415.7 1314.4,1415.8 1284.4,1413.6 1262.4,1413.1 1222.4,1413.1 1204.4,1414.2 1192.4,1416.2 1181.8,1419.5 1172.4,1424.1 1156.4,1434.3 1152.4,1435.3 1150.4,1434.9 1146.4,1432.9 1136.4,1426.3 1126.4,1417 1105.1,1393.5 1100.4,1387.6 1097.1,1381.5 1096.2,1375.5 1098.1,1369.5 1101,1365.5 1105.5,1361.5 1112.4,1357.7 1118.4,1355.5 1126.8,1353.5 1140.4,1351.2ZM1131.3,1447.5 1136.4,1446.5 1150.4,1448 1151.6,1449.5 1152,1451.5 1151.6,1453.5 1150.6,1455.5 1148.6,1457.5 1141.5,1461.5 1134.4,1462.8 1128.4,1461.8 1123.6,1459.5 1121.2,1457.5 1119.9,1455.5 1119.6,1453.5 1120.6,1451.5 1122.4,1450.3Z"/>
<path fill="#ffae00" fill-rule="evenodd" d="M1191.7,1357.5 1214.4,1357.1 1232.4,1357.8 1248.6,1359.5 1264.4,1362.7 1279.9,1367.5 1293.9,1373.5 1297.1,1375.5 1301.4,1379.5 1303.7,1383.5 1304,1385.5 1302.4,1388.4 1298.4,1390.3 1279.6,1395.5 1264.4,1398.4 1252.4,1399.7 1238.4,1400.4 1208.4,1399.8 1186.3,1397.5 1174.4,1395.3 1162.4,1392.2 1146.4,1386.6 1130.4,1378.4 1120.4,1376.4 1119.1,1375.5 1118.1,1373.5 1118.8,1371.5 1122.3,1369.5 1130.4,1368 1146.9,1363.5 1170.6,1359.5Z"/>
<path fill="#ff7e00" fill-rule="evenodd" d="M1217.9,1369.5 1228.4,1369.5 1244.4,1372.6 1251.2,1375.5 1253,1377.5 1252.9,1379.5 1250.6,1381.5 1243.6,1383.5 1230,1385.5 1222.4,1385.8 1218.4,1385.5 1209.6,1383.5 1196.6,1379.5 1193.1,1377.5 1192.7,1375.5 1195.9,1373.5Z"/>
<use href="#cst" class="cs" transform="translate(0 985)"/>
</svg>
<rect class="fr" x="78.40" y="1117.50" width="1331.10" height="655.90"/>
<rect shape-rendering="crispEdges" x="78.40" y="1816.80" width="66.55" height="65.60" fill="#00009b"/>
<rect shape-rendering="crispEdges" x="144.45" y="1816.80" width="67.05" height="65.60" fill="#0000d6"/>
<rect shape-rendering="crispEdges" x="211.01" y="1816.80" width="67.05" height="65.60" fill="#0000ff"/>
<rect shape-rendering="crispEdges" x="277.56" y="1816.80" width="67.05" height="65.60" fill="#0030ff"/>
<rect shape-rendering="crispEdges" x="344.12" y="1816.80" width="67.05" height="65.60" fill="#0064ff"/>
<rect shape-rendering="crispEdges" x="410.67" y="1816.80" width="67.05" height="65.60" fill="#0098ff"/>
<rect shape-rendering="crispEdges" x="477.23" y="1816.80" width="67.05" height="65.60" fill="#00ccff"/>
<rect shape-rendering="crispEdges" x="543.78" y="1816.80" width="67.05" height="65.60" fill="#16ffe1"/>
<rect shape-rendering="crispEdges" x="610.34" y="1816.80" width="67.05" height="65.60" fill="#3cffba"/>
<rect shape-rendering="crispEdges" x="676.89" y="1816.80" width="67.05" height="65.60" fill="#66ff90"/>
<rect shape-rendering="crispEdges" x="743.45" y="1816.80" width="67.05" height="65.60" fill="#90ff66"/>
<rect shape-rendering="crispEdges" x="810.00" y="1816.80" width="67.05" height="65.60" fill="#baff3c"/>
<rect shape-rendering="crispEdges" x="876.56" y="1816.80" width="67.05" height="65.60" fill="#e4ff13"/>
<rect shape-rendering="crispEdges" x="943.11" y="1816.80" width="67.05" height="65.60" fill="#ffde00"/>
<rect shape-rendering="crispEdges" x="1009.67" y="1816.80" width="67.05" height="65.60" fill="#ffae00"/>
<rect shape-rendering="crispEdges" x="1076.22" y="1816.80" width="67.05" height="65.60" fill="#ff7e00"/>
<rect shape-rendering="crispEdges" x="1142.78" y="1816.80" width="67.05" height="65.60" fill="#ff4e00"/>
<rect shape-rendering="crispEdges" x="1209.34" y="1816.80" width="67.05" height="65.60" fill="#ff1e00"/>
<rect shape-rendering="crispEdges" x="1275.89" y="1816.80" width="67.05" height="65.60" fill="#d60000"/>
<rect shape-rendering="crispEdges" x="1342.44" y="1816.80" width="67.05" height="65.60" fill="#9b0000"/>
<rect class="fr" x="78.40" y="1816.80" width="1331.10" height="65.60"/>
<path class="tk" d="M78.40 1882.40v14.6"/>
<text class="tl" x="78.40" y="1943.70">0.0</text>
<path class="tk" d="M278.06 1882.40v14.6"/>
<text class="tl" x="278.06" y="1943.70">7.5</text>
<path class="tk" d="M477.73 1882.40v14.6"/>
<text class="tl" x="477.73" y="1943.70">15.0</text>
<path class="tk" d="M677.39 1882.40v14.6"/>
<text class="tl" x="677.39" y="1943.70">22.5</text>
<path class="tk" d="M877.06 1882.40v14.6"/>
<text class="tl" x="877.06" y="1943.70">30.0</text>
<path class="tk" d="M1076.73 1882.40v14.6"/>
<text class="tl" x="1076.73" y="1943.70">37.5</text>
<path class="tk" d="M1276.39 1882.40v14.6"/>
<text class="tl" x="1276.39" y="1943.70">45.0</text>
<text class="tt" x="743.95" y="2077.00">Plasmasphere (h=1500.0 km), 2017-04-28 06:00 UT</text>
<svg x="78.40" y="2102.50" width="1331.10" height="655.90" viewBox="78.40 2102.50 1331.10 655.90" overflow="hidden">
<rect x="78.4" y="2102.5" width="1331.1" height="655.9" fill="#0000df"/>
<path fill="#0080ff" fill-rule="evenodd" d="M100.4,2252.5 118.4,2251.5 136.4,2251.4 154.4,2252.3 172.4,2254.1 198.4,2258.8 264.4,2275.2 290.2,2280.5 326.4,2285.5 364.4,2288.1 394.4,2288.5 422.4,2287.6 456.4,2285.6 534.4,2279.7 582.4,2278.1 606.4,2278.4 640.4,2279.7 728.4,2286.6 750.4,2286.8 774.4,2285.1 858.4,2275.6 898.4,2271.8 940.4,2269.2 978.4,2268.4 1004.4,2269.4 1028.4,2271.8 1054.4,2275.8 1096.4,2284.5 1118.4,2288.4 1140.4,2291 1162.4,2292 1188.4,2290.8 1214.4,2287.4 1234.4,2283.6 1296.4,2270.1 1320.4,2265.9 1348.4,2262.8 1394.4,2259.2 1412.4,2256.1 1412.4,2618.3 1410.4,2617 1404.3,2610.5 1388.4,2596.1 1364.4,2573.2 1350.4,2561.4 1342.4,2555.6 1333.7,2550.5 1324.9,2546.5 1316.4,2543.7 1302.4,2540.4 1286.4,2537.6 1220.4,2527.7 1174.4,2521.9 1139.7,2518.5 1104.4,2515.9 1070.4,2514.1 1046.4,2513.6 1034.4,2513.8 1024.4,2514.7 1016.8,2516.5 1010.4,2519.3 1005.9,2522.5 1002.4,2526.5 992.4,2543.5 987,2550.5 980.4,2555.6 972.4,2558.8 964.4,2560.2 956.4,2560.7 914.4,2560.3 900.4,2560.7 884.4,2562 868.4,2564.2 854.4,2567 838.4,2571.1 766.4,2594.5 748.4,2599.5 732.4,2603.1 558.4,2631.2 496.4,2639.2 436.4,2645.2 382.4,2649.4 322.4,2652 300.4,2652.3 282.4,2651.9 246.4,2648.8 196.4,2642 162.4,2636 84.4,2620.6 80.4,2618.7 76.4,2614.6 74.4,2613.5 74.4,2256.8 90.4,2253.7Z"/>
<path fill="#36ffc1" fill-rule="evenodd" d="M139.9,2304.5 150.4,2303.2 160.4,2302.7 172.4,2303 184.4,2303.9 212.4,2308.2 270.4,2321.1 292.4,2325.1 310.4,2327.8 328.4,2329.7 350.4,2331.3 412.4,2333.9 442.4,2335.7 460.4,2337.6 478.4,2341.1 490.4,2344.5 501.1,2348.5 510.4,2352.8 520.4,2358.4 534.7,2368.5 558.4,2390 569.2,2398.5 582.4,2406.5 594.4,2410.9 602.4,2412.8 612.4,2414.1 620.4,2414.4 628.4,2413.9 640.4,2411.1 666.4,2402.2 676.4,2400.4 682.4,2400.4 688.4,2401 694.4,2402.5 700.4,2404.8 706.4,2408.1 712.4,2412.6 718.4,2418.9 722.5,2424.5 725.3,2430.5 726.6,2436.5 726.8,2442.5 726,2448.5 724.1,2454.5 720.4,2462.3 716.4,2468.6 710.4,2476.4 675.5,2516.5 665.2,2526.5 655.1,2534.5 637.5,2544.5 614.1,2554.5 568.4,2571.4 536.4,2581.1 516.4,2585.6 494.4,2589.5 472.4,2592.5 450.4,2594.5 410.4,2596.6 306.4,2598.9 274.4,2598.5 244.4,2596.3 216.4,2592.3 184.4,2585.5 158.5,2578.5 96.4,2559.7 83.4,2556.5 80.2,2554.5 78.8,2552.5 78.3,2550.5 79.7,2540.5 79,2536.5 77.6,2534.5 74.4,2532.6 74.4,2320.3 92.4,2317 120.4,2309ZM1321.9,2316.5 1344.4,2315 1366.4,2315 1388.4,2316.6 1406.4,2320 1412.4,2319.7 1412.4,2538.4 1409.4,2534.5 1403.5,2530.5 1379.7,2518.5 1366.2,2512.5 1352.4,2507.3 1336.4,2502.1 1316.4,2496.6 1298.4,2492.3 1278.4,2488.3 1258.4,2485 1238.8,2482.5 1222.4,2481.1 1195.1,2480.5 1140.4,2482.6 1118.4,2482.9 1100.4,2482.1 1082.4,2479.7 1048.4,2472.8 992.4,2458 976.4,2454.3 952.4,2450.2 922.4,2446.6 912.4,2444.5 904.4,2441.4 898.4,2437.4 894.1,2432.5 891.9,2428.5 890.5,2424.5 889.5,2418.5 889.3,2410.5 889.8,2398.5 891.1,2388.5 895.1,2374.5 901.2,2362.5 909.2,2352.5 913.8,2348.5 919.5,2344.5 932.4,2338.3 950.4,2332.8 970.4,2328.6 990.4,2326 1010.4,2324.8 1030.4,2325.2 1042.4,2326.3 1054.4,2328.3 1098.4,2339.3 1112.4,2342.2 1132.4,2344.3 1150.4,2344.4 1172.4,2342.6 1196.4,2339.1 1222.5,2334.5 1294.4,2320.3ZM1410.4,2546.4 1412.4,2541.4 1412.4,2554.4 1410.4,2552.5 1409.9,2550.5Z"/>
<path fill="#c1ff36" fill-rule="evenodd" d="M152.8,2352.5 176.4,2352.5 200.4,2354.8 221.1,2358.5 246.4,2365.5 277.9,2376.5 311.9,2390.5 349.7,2408.5 360.5,2414.5 369.8,2420.5 374.7,2424.5 379.2,2430.5 382,2438.5 382.8,2446.5 381.7,2482.5 380.8,2494.5 379.3,2502.5 377.5,2508.5 373.5,2516.5 367.9,2522.5 360.4,2527.5 350.4,2531.7 336.4,2535.8 318.4,2539.9 302.4,2542.3 286.4,2543.3 274.4,2542.8 264.4,2541.3 254.4,2538.8 248.4,2536.5 240.9,2532.5 236.4,2529.2 232.4,2525.3 220.4,2510.3 214.8,2504.5 208.4,2500.1 200.4,2496.7 190.4,2494.9 180.4,2494.7 140.4,2499 130.4,2499.4 120.4,2499.1 106.4,2497.5 90,2494.5 82.9,2492.5 74.4,2488.4 74.4,2362.4 76.4,2362.9 82.1,2366.5 88.4,2366.4 96.4,2364.8 114.4,2359.4 130.4,2355.5 142.4,2353.4ZM1343.8,2356.5 1366.4,2356.6 1389.5,2358.5 1400.2,2360.5 1407.6,2362.5 1412.4,2365.4 1412.4,2490.9 1410.4,2490.3 1404.5,2486.5 1394.4,2481.4 1372.4,2473.4 1342.4,2465.4 1310.4,2459.6 1278.4,2455.7 1248.4,2453.4 1228.4,2452.8 1180.4,2452.9 1148.4,2451.5 1116.4,2448.4 1094.4,2444.5 1078.8,2440.5 1066.5,2436.5 1050.7,2430.5 1037.8,2424.5 1028.4,2418.6 1023.8,2414.5 1020.9,2410.5 1018.8,2404.5 1018.7,2400.5 1020,2396.5 1022.4,2393.2 1025.6,2390.5 1028.9,2388.5 1034.4,2386.3 1046.4,2383.7 1056.4,2382.6 1066.4,2382.3 1098.4,2383.2 1118.4,2383.1 1156.4,2380.7 1182.4,2377.6 1298.4,2360.3 1320.4,2358Z"/>
<path fill="#ff9400" fill-rule="evenodd" d="M129,2410.5 138.4,2410.3 142.4,2410.9 147,2412.5 149.6,2414.5 150.8,2416.5 151,2418.5 149.6,2422.5 146.2,2426.5 140.4,2431.2 134.4,2434.1 128.4,2435.5 118.4,2436.4 110.4,2435.9 102.4,2433.2 98.4,2429.8 97.4,2426.5 97.9,2424.5 100.4,2421.5 104.7,2418.5 116.4,2412.9 122.4,2411.4Z"/>
<use href="#cst" class="cs" transform="translate(0 1970)"/>
</svg>
<rect class="fr" x="78.40" y="2102.50" width="1331.10" height="655.90"/>
<rect shape-rendering="crispEdges" x="78.40" y="2801.80" width="221.85" height="65.60" fill="#0000df"/>
<rect shape-rendering="crispEdges" x="299.75" y="2801.80" width="222.35" height="65.60" fill="#0080ff"/>
<rect shape-rendering="crispEdges" x="521.60" y="2801.80" width="222.35" height="65.60" fill="#36ffc1"/>
<rect shape-rendering="crispEdges" x="743.45" y="2801.80" width="222.35" height="65.60" fill="#c1ff36"/>
<rect shape-rendering="crispEdges" x="965.30" y="2801.80" width="222.35" height="65.60" fill="#ff9400"/>
<rect shape-rendering="crispEdges" x="1187.15" y="2801.80" width="222.35" height="65.60" fill="#df0000"/>
<rect class="fr" x="78.40" y="2801.80" width="1331.10" height="65.60"/>
<path class="tk" d="M78.40 2867.40v14.6"/>
<text class="tl" x="78.40" y="2928.70">0.0</text>
<path class="tk" d="M300.25 2867.40v14.6"/>
<text class="tl" x="300.25" y="2928.70">2.5</text>
<path class="tk" d="M522.10 2867.40v14.6"/>
<text class="tl" x="522.10" y="2928.70">5.0</text>
<path class="tk" d="M743.95 2867.40v14.6"/>
<text class="tl" x="743.95" y="2928.70">7.5</text>
<path class="tk" d="M965.80 2867.40v14.6"/>
<text class="tl" x="965.80" y="2928.70">10.0</text>
<path class="tk" d="M1187.65 2867.40v14.6"/>
<text class="tl" x="1187.65" y="2928.70">12.5</text>
<path class="tk" d="M1409.50 2867.40v14.6"/>
<text class="tl" x="1409.50" y="2928.70">15.0</text>
</svg>
</body></html>
